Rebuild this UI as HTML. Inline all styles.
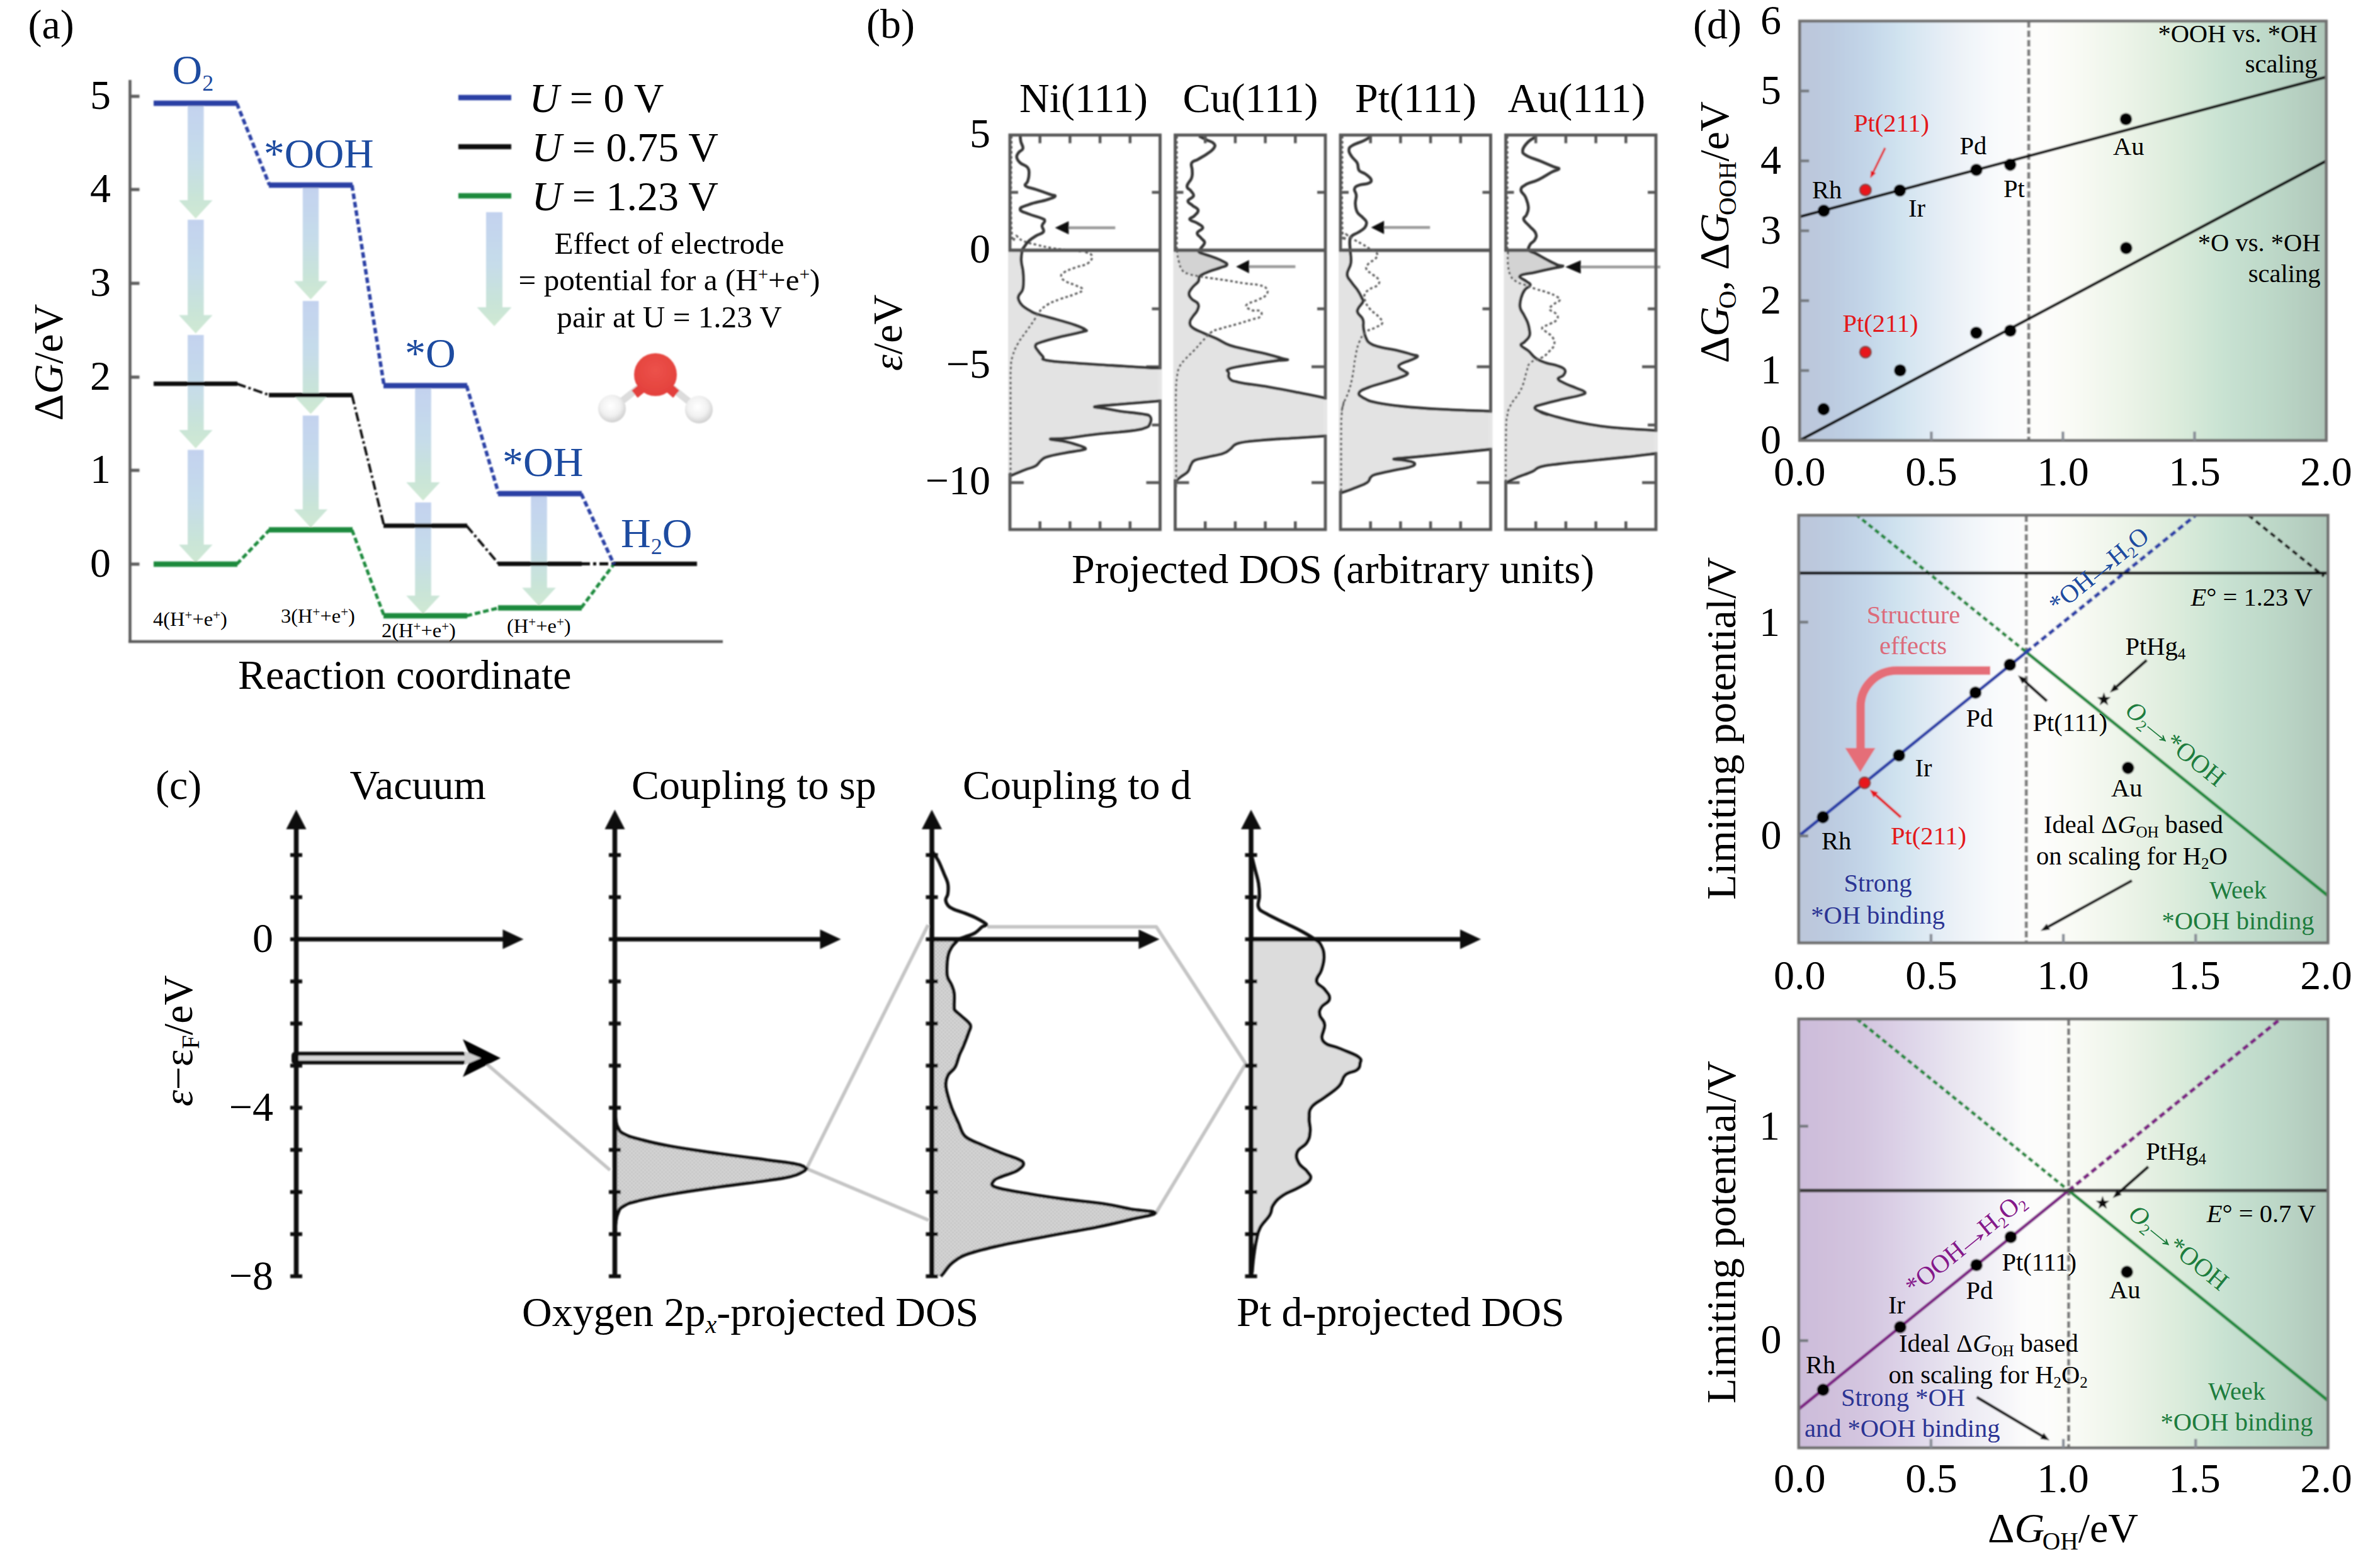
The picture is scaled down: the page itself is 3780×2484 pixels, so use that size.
<!DOCTYPE html>
<html lang="en"><head><meta charset="utf-8"><title>ORR figure</title>
<style>html,body{margin:0;padding:0;background:#fff}body{width:3780px;height:2484px;overflow:hidden}text{white-space:pre}</style></head>
<body>
<svg width="3780" height="2484" viewBox="0 0 3780 2484" font-family="'Liberation Serif', 'DejaVu Serif', serif" style="display:block">
<defs><filter id="soft" x="0" y="0" width="3780" height="2484" filterUnits="userSpaceOnUse"><feGaussianBlur stdDeviation="0.9"/></filter></defs>
<rect width="3780" height="2484" fill="#ffffff"/>
<g id="panel_a-gfx" filter="url(#soft)">
<defs><linearGradient id="ag" x1="0" y1="0" x2="0" y2="1"><stop offset="0" stop-color="#c3d2ef"/><stop offset="0.45" stop-color="#c6dcea"/><stop offset="0.8" stop-color="#c9e4d8"/><stop offset="1" stop-color="#d0e9d3"/></linearGradient><radialGradient id="hg" cx="0.45" cy="0.4" r="0.6"><stop offset="0" stop-color="#ffffff"/><stop offset="0.6" stop-color="#f1f1f1"/><stop offset="1" stop-color="#cfcfcf"/></radialGradient><radialGradient id="og" cx="0.5" cy="0.4" r="0.6"><stop offset="0" stop-color="#ec524a"/><stop offset="1" stop-color="#e3403c"/></radialGradient></defs>
<polygon points="298.1,167 323.6,167 323.6,318 337.6,318 310.8,347 284.1,318 298.1,318" fill="url(#ag)"/>
<polygon points="298.1,349 323.6,349 323.6,500.5 337.6,500.5 310.8,529.5 284.1,500.5 298.1,500.5" fill="url(#ag)"/>
<polygon points="298.1,532 323.6,532 323.6,683 337.6,683 310.8,712 284.1,683 298.1,683" fill="url(#ag)"/>
<polygon points="298.1,714.5 323.6,714.5 323.6,865 337.6,865 310.8,894 284.1,865 298.1,865" fill="url(#ag)"/>
<polygon points="480.8,298 506.2,298 506.2,446.5 520.2,446.5 493.5,475.5 466.8,446.5 480.8,446.5" fill="url(#ag)"/>
<polygon points="480.8,478 506.2,478 506.2,628.5 520.2,628.5 493.5,657.5 466.8,628.5 480.8,628.5" fill="url(#ag)"/>
<polygon points="480.8,660 506.2,660 506.2,809 520.2,809 493.5,838 466.8,809 480.8,809" fill="url(#ag)"/>
<polygon points="659.2,616 684.8,616 684.8,766 698.8,766 672,795 645.2,766 659.2,766" fill="url(#ag)"/>
<polygon points="659.2,798 684.8,798 684.8,946 698.8,946 672,975 645.2,946 659.2,946" fill="url(#ag)"/>
<polygon points="843.2,788 868.8,788 868.8,933.5 882.8,933.5 856,962.5 829.2,933.5 843.2,933.5" fill="url(#ag)"/>
<polygon points="772,337 798,337 798,488 812.5,488 785,518 757.5,488 772,488" fill="url(#ag)"/>
<line x1="206.5" y1="127" x2="206.5" y2="1021" stroke="#5c5c5c" stroke-width="4.5" />
<line x1="204" y1="1019" x2="1148" y2="1019" stroke="#5c5c5c" stroke-width="4.5" />
<line x1="207" y1="153" x2="221.5" y2="153" stroke="#5c5c5c" stroke-width="5" />
<line x1="207" y1="301" x2="221.5" y2="301" stroke="#5c5c5c" stroke-width="5" />
<line x1="207" y1="450" x2="221.5" y2="450" stroke="#5c5c5c" stroke-width="5" />
<line x1="207" y1="599" x2="221.5" y2="599" stroke="#5c5c5c" stroke-width="5" />
<line x1="207" y1="747" x2="221.5" y2="747" stroke="#5c5c5c" stroke-width="5" />
<line x1="207" y1="896" x2="221.5" y2="896" stroke="#5c5c5c" stroke-width="5" />
<line x1="244" y1="896" x2="377" y2="896" stroke="#1e8a3c" stroke-width="8.5" /><line x1="427" y1="841.5" x2="560" y2="841.5" stroke="#1e8a3c" stroke-width="8.5" /><line x1="609" y1="978" x2="742" y2="978" stroke="#1e8a3c" stroke-width="8.5" /><line x1="791" y1="965.5" x2="924" y2="965.5" stroke="#1e8a3c" stroke-width="8.5" /><line x1="376" y1="896" x2="428" y2="841.5" stroke="#1e8a3c" stroke-width="5" stroke-dasharray="9 4.5"/><line x1="559" y1="841.5" x2="610" y2="978" stroke="#1e8a3c" stroke-width="5" stroke-dasharray="9 4.5"/><line x1="741" y1="978" x2="792" y2="965.5" stroke="#1e8a3c" stroke-width="5" stroke-dasharray="9 4.5"/>
<line x1="923" y1="965.5" x2="975" y2="896" stroke="#1e8a3c" stroke-width="5" stroke-dasharray="9 4.5"/>
<line x1="244" y1="609.5" x2="377" y2="609.5" stroke="#111" stroke-width="7" /><line x1="427" y1="627.5" x2="560" y2="627.5" stroke="#111" stroke-width="7" /><line x1="609" y1="835" x2="742" y2="835" stroke="#111" stroke-width="7" /><line x1="791" y1="895.5" x2="924" y2="895.5" stroke="#111" stroke-width="7" /><line x1="376" y1="609.5" x2="428" y2="627.5" stroke="#111" stroke-width="4" stroke-dasharray="15 4.5 4 4.5"/><line x1="559" y1="627.5" x2="610" y2="835" stroke="#111" stroke-width="4" stroke-dasharray="15 4.5 4 4.5"/><line x1="741" y1="835" x2="792" y2="895.5" stroke="#111" stroke-width="4" stroke-dasharray="15 4.5 4 4.5"/>
<line x1="923" y1="895.5" x2="976" y2="895.5" stroke="#111" stroke-width="5" stroke-dasharray="14 5 5 5"/>
<line x1="974" y1="895.5" x2="1107" y2="895.5" stroke="#111" stroke-width="7" />
<line x1="244" y1="164" x2="377" y2="164" stroke="#2b40a4" stroke-width="8.5" /><line x1="427" y1="294" x2="560" y2="294" stroke="#2b40a4" stroke-width="8.5" /><line x1="609" y1="612.5" x2="742" y2="612.5" stroke="#2b40a4" stroke-width="8.5" /><line x1="791" y1="784" x2="924" y2="784" stroke="#2b40a4" stroke-width="8.5" /><line x1="376" y1="164" x2="428" y2="294" stroke="#2b40a4" stroke-width="5.5" stroke-dasharray="9 4.5"/><line x1="559" y1="294" x2="610" y2="612.5" stroke="#2b40a4" stroke-width="5.5" stroke-dasharray="9 4.5"/><line x1="741" y1="612.5" x2="792" y2="784" stroke="#2b40a4" stroke-width="5.5" stroke-dasharray="9 4.5"/>
<line x1="923" y1="784" x2="975" y2="896" stroke="#2b40a4" stroke-width="5.5" stroke-dasharray="9 4.5"/>
<line x1="728" y1="155" x2="812" y2="155" stroke="#2b40a4" stroke-width="8.5" />
<line x1="728" y1="233" x2="812" y2="233" stroke="#111" stroke-width="8" />
<line x1="728" y1="311" x2="812" y2="311" stroke="#1e8a3c" stroke-width="8.5" />
<line x1="1041" y1="595" x2="975" y2="647" stroke="#dcdcdc" stroke-width="11" stroke-linecap="round"/>
<line x1="1041" y1="595" x2="1107" y2="648" stroke="#dcdcdc" stroke-width="11" stroke-linecap="round"/>
<line x1="1025" y1="612" x2="1008" y2="626" stroke="#e3403c" stroke-width="15" />
<line x1="1058" y1="612" x2="1074" y2="626" stroke="#e3403c" stroke-width="15" />
<circle cx="972" cy="649" r="22" fill="url(#hg)"/>
<circle cx="1110" cy="650.5" r="22" fill="url(#hg)"/>
<circle cx="1041" cy="595" r="34" fill="url(#og)"/>
</g>
<g id="panel_b-gfx" filter="url(#soft)">
<line x1="1842.5" y1="305.5" x2="1829.5" y2="305.5" stroke="#565656" stroke-width="4.5" /><line x1="1604" y1="305.5" x2="1617" y2="305.5" stroke="#565656" stroke-width="4.5" /><line x1="1842.5" y1="490.5" x2="1829.5" y2="490.5" stroke="#565656" stroke-width="4.5" /><line x1="1604" y1="490.5" x2="1617" y2="490.5" stroke="#565656" stroke-width="4.5" /><line x1="1842.5" y1="582.5" x2="1820.5" y2="582.5" stroke="#565656" stroke-width="4.5" /><line x1="1604" y1="582.5" x2="1626" y2="582.5" stroke="#565656" stroke-width="4.5" /><line x1="1842.5" y1="675" x2="1829.5" y2="675" stroke="#565656" stroke-width="4.5" /><line x1="1604" y1="675" x2="1617" y2="675" stroke="#565656" stroke-width="4.5" /><line x1="1842.5" y1="766.5" x2="1820.5" y2="766.5" stroke="#565656" stroke-width="4.5" /><line x1="1604" y1="766.5" x2="1626" y2="766.5" stroke="#565656" stroke-width="4.5" /><polygon points="1604,397.5 1620.9,398.8 1621.8,413.5 1624.7,431.2 1625.3,448.8 1623.8,460.6 1617.9,469.4 1617.9,476.8 1623.8,485.6 1637.1,494.4 1648.8,499.4 1678.2,507.6 1707.6,516.5 1723.8,523.8 1719.4,526.8 1687.1,534.1 1654.7,542.9 1644.4,548.8 1648.8,557.6 1656.2,566.5 1662.1,572.4 1707.6,576.8 1766.5,580.6 1825.3,584.1 1843.5,584.4 1842.5,584.4 1842.5,636.5 1843.5,636.5 1801.8,640 1766.5,642.9 1738.5,645.9 1754.7,648.8 1778.2,653.2 1813.5,657.6 1826.8,662.1 1825.9,673.8 1817.9,679.7 1795.9,684.1 1737.1,690 1692.9,695.9 1667.9,697.4 1692.9,701.8 1713.5,707.6 1723.8,712.1 1716.5,715 1690,719.4 1663.5,725.3 1653.2,731.2 1644.4,740 1628.2,745.9 1605.3,755.3 1604,755.3" fill="#e3e3e3"/><path d="M1606.5 216C1606.5 250.5 1604.5 326.9 1606.5 364C1608.5 401.1 1610.5 370.6 1615 375C1619.5 379.4 1618.5 379.7 1626 383C1633.5 386.3 1636.5 386.4 1647 389C1657.5 391.6 1661 392.2 1671 394C1681 395.8 1678.3 395.2 1690 396.5C1701.7 397.8 1713.8 398.8 1721 399.5" fill="none" stroke="#5e5e5e" stroke-width="3.3" stroke-dasharray="4.2 3.8"/><line x1="1695.4" y1="361.7" x2="1771.3" y2="361.7" stroke="#9a9a9a" stroke-width="4.5" /><polygon points="1675.6,361.7 1697.4,351.2 1697.4,372.2" fill="#0a0a0a"/><path d="M1620.2 213.5C1620.5 216 1620.3 219.9 1621.3 224.8C1622.3 229.7 1625.3 231.8 1624.6 235.7C1623.8 239.5 1620.2 239.1 1618 242.2C1615.9 245.3 1614.3 246.2 1614.8 249.8C1615.3 253.4 1616.4 254.9 1620.2 258.5C1624 262.1 1629.1 262 1632.2 266.1C1635.3 270.2 1634.3 272.2 1634.3 277C1634.3 281.7 1633.4 283.8 1632.2 287.8C1631 291.9 1626 292.6 1628.9 295.4C1631.8 298.3 1636.8 298 1645.2 300.9C1653.6 303.7 1660.3 306.1 1667 308.5C1673.7 310.9 1676.6 309.8 1675.7 311.7C1674.7 313.7 1671.7 314.3 1662.6 317.2C1653.5 320 1643.7 321.4 1634.3 324.8C1625 328.1 1620.2 329 1620.2 332.4C1620.2 335.7 1626.9 336.9 1634.3 340C1641.8 343.1 1648.4 344.1 1653.9 346.5C1659.4 348.9 1659.1 348.2 1659.3 350.9C1659.6 353.5 1655.5 354.7 1655 358.5C1654.5 362.3 1659.3 364.7 1657.2 368.3C1655 371.8 1650.5 371.4 1645.2 374.8C1640 378.1 1637.3 379.7 1633.3 383.5C1629.2 387.3 1628.9 389.1 1626.7 392.2C1624.6 395.3 1624.6 392.9 1623.5 397.6C1622.4 402.3 1621.5 406.1 1621.8 413.5C1622 420.9 1623.9 423.4 1624.7 431.2C1625.5 438.9 1625.5 442.4 1625.3 448.8C1625.1 455.3 1625.4 456.1 1623.8 460.6C1622.2 465.1 1619.2 465.9 1617.9 469.4C1616.6 473 1616.6 473.2 1617.9 476.8C1619.2 480.3 1619.6 481.7 1623.8 485.6C1628 489.5 1631.6 491.4 1637.1 494.4C1642.6 497.5 1639.8 496.5 1648.8 499.4C1657.9 502.3 1665.3 503.9 1678.2 507.6C1691.2 511.4 1697.6 512.9 1707.6 516.5C1717.7 520 1721.2 521.6 1723.8 523.8C1726.4 526.1 1727.5 524.5 1719.4 526.8C1711.3 529 1701.3 530.6 1687.1 534.1C1672.8 537.7 1664.1 539.7 1654.7 542.9C1645.3 546.2 1645.7 545.6 1644.4 548.8C1643.1 552.1 1646.2 553.8 1648.8 557.6C1651.4 561.5 1653.3 563.2 1656.2 566.5C1659.1 569.7 1650.7 570.1 1662.1 572.4C1673.4 574.6 1684.7 575 1707.6 576.8C1730.6 578.6 1740.6 579 1766.5 580.6C1792.4 582.2 1808.3 583.3 1825.3 584.1C1842.2 585 1839.5 584.3 1843.5 584.4" fill="none" stroke="#343434" stroke-width="4.6" stroke-linejoin="round"/><path d="M1843.5 636.5C1834.3 637.2 1818.7 638.6 1801.8 640C1784.8 641.4 1780.4 641.6 1766.5 642.9C1752.6 644.2 1741.1 644.6 1738.5 645.9C1735.9 647.2 1746 647.2 1754.7 648.8C1763.4 650.4 1765.3 651.3 1778.2 653.2C1791.2 655.2 1802.9 655.7 1813.5 657.6C1824.2 659.6 1824 658.5 1826.8 662.1C1829.5 665.6 1827.8 669.9 1825.9 673.8C1823.9 677.7 1824.5 677.4 1817.9 679.7C1811.3 682 1813.7 681.9 1795.9 684.1C1778.1 686.4 1759.7 687.4 1737.1 690C1714.4 692.6 1708.1 694.3 1692.9 695.9C1677.7 697.5 1667.9 696.1 1667.9 697.4C1667.9 698.6 1682.9 699.5 1692.9 701.8C1703 704 1706.7 705.4 1713.5 707.6C1720.3 709.9 1723.2 710.4 1723.8 712.1C1724.5 713.7 1723.9 713.4 1716.5 715C1709 716.6 1701.6 717.1 1690 719.4C1678.4 721.7 1671.6 722.7 1663.5 725.3C1655.4 727.9 1657.4 727.9 1653.2 731.2C1649 734.4 1649.9 736.8 1644.4 740C1638.9 743.2 1636.8 742.5 1628.2 745.9C1619.6 749.2 1610.3 753.2 1605.3 755.3" fill="none" stroke="#343434" stroke-width="4.6" stroke-linejoin="round"/><rect x="1604" y="214.5" width="238.5" height="626.5" fill="none" stroke="#565656" stroke-width="4.8"/><line x1="1604" y1="397.5" x2="1842.5" y2="397.5" stroke="#565656" stroke-width="5.5" /><line x1="1604" y1="400.2" x2="1604" y2="751.3" stroke="#e3e3e3" stroke-width="6" /><path d="M1723.8 400.3C1726.2 401.6 1733 401.9 1734 406C1735 410.1 1734.2 413.6 1728 418C1721.8 422.4 1716.5 421.6 1707.6 425C1698.7 428.4 1695.1 429.1 1690 432.6C1684.9 436.1 1684.9 436.6 1685.6 440C1686.3 443.4 1687.9 444 1693 447C1698.1 450 1701.4 450 1707.6 453C1713.8 456 1719.4 456.7 1719.4 460C1719.4 463.3 1715.9 463.5 1707.6 467C1699.3 470.5 1694.3 471 1684 475C1673.7 479 1671.4 479.1 1663.5 484C1655.6 488.9 1654.8 490.5 1650 496C1645.2 501.5 1647.4 500.8 1643 507.6C1638.6 514.4 1637.2 516 1631 525C1624.8 534 1621.9 536.3 1616.5 546C1611.1 555.7 1610.6 557.6 1608 566.5C1605.4 575.4 1606.2 570.4 1605.5 584C1604.8 597.6 1605.1 586.3 1605 625C1604.9 663.7 1605.1 720.5 1605 750C1604.9 779.5 1604.6 751 1604.5 751.3" fill="none" stroke="#5e5e5e" stroke-width="3.3" stroke-dasharray="4.2 3.8"/><rect x="1839.5" y="586.9" width="6" height="47.1" fill="#e6e6e6"/><line x1="1651.7" y1="214.5" x2="1651.7" y2="227.5" stroke="#565656" stroke-width="4.5" /><line x1="1651.7" y1="841" x2="1651.7" y2="828" stroke="#565656" stroke-width="4.5" /><line x1="1699.4" y1="214.5" x2="1699.4" y2="227.5" stroke="#565656" stroke-width="4.5" /><line x1="1699.4" y1="841" x2="1699.4" y2="828" stroke="#565656" stroke-width="4.5" /><line x1="1747.1" y1="214.5" x2="1747.1" y2="227.5" stroke="#565656" stroke-width="4.5" /><line x1="1747.1" y1="841" x2="1747.1" y2="828" stroke="#565656" stroke-width="4.5" /><line x1="1794.8" y1="214.5" x2="1794.8" y2="227.5" stroke="#565656" stroke-width="4.5" /><line x1="1794.8" y1="841" x2="1794.8" y2="828" stroke="#565656" stroke-width="4.5" />
<line x1="2105" y1="305.5" x2="2092" y2="305.5" stroke="#565656" stroke-width="4.5" /><line x1="1866.5" y1="305.5" x2="1879.5" y2="305.5" stroke="#565656" stroke-width="4.5" /><line x1="2105" y1="490.5" x2="2092" y2="490.5" stroke="#565656" stroke-width="4.5" /><line x1="1866.5" y1="490.5" x2="1879.5" y2="490.5" stroke="#565656" stroke-width="4.5" /><line x1="2105" y1="582.5" x2="2083" y2="582.5" stroke="#565656" stroke-width="4.5" /><line x1="1866.5" y1="582.5" x2="1888.5" y2="582.5" stroke="#565656" stroke-width="4.5" /><line x1="2105" y1="675" x2="2092" y2="675" stroke="#565656" stroke-width="4.5" /><line x1="1866.5" y1="675" x2="1879.5" y2="675" stroke="#565656" stroke-width="4.5" /><line x1="2105" y1="766.5" x2="2083" y2="766.5" stroke="#565656" stroke-width="4.5" /><line x1="1866.5" y1="766.5" x2="1888.5" y2="766.5" stroke="#565656" stroke-width="4.5" /><polygon points="1866.5,397.5 1905.3,397.6 1905.9,401.5 1923.5,407.4 1941.2,414.7 1948.5,420.6 1938.2,425 1920.6,430.9 1905.9,438.2 1902.9,447.1 1894.1,455.9 1888.2,466.2 1892.6,475 1902.4,482.4 1901.5,492.6 1894.1,502.9 1889.7,511.8 1894.1,520.6 1911.8,529.4 1932.4,538.2 1952.9,548.5 1982.4,555.9 2014.7,563.2 2038.2,570 2044.1,571.5 2026.5,572.9 1991.2,577.9 1952.9,585.3 1951.5,592.6 1952.9,601.5 1967.6,607.4 2014.7,614.7 2061.8,623.5 2105.3,632.4 2105,632.4 2105,692.3 2106,692.3 2061,695.2 2003.4,699 1967,703.8 1953.6,713.4 1942.1,720.1 1917.1,725.9 1897.9,730.7 1891.2,738.4 1886.4,748.9 1874.9,757.5 1866.5,764.8 1866.5,764.8" fill="#e3e3e3"/><polygon points="1905.3,397.6 1905.9,401.5 1923.5,407.4 1941.2,414.7 1948.5,420.6 1938.2,425 1920.6,430.9 1905.9,438.2 1904.4,438.8 1888.2,435.3 1877.9,429.4 1872.1,414.7 1869.1,397.6" fill="#d3d3d3"/><path d="M1869 216 L1869 397" fill="none" stroke="#5e5e5e" stroke-width="3.3" stroke-dasharray="4.2 3.8"/><line x1="1981.8" y1="423.5" x2="2057.4" y2="423.5" stroke="#9a9a9a" stroke-width="4.5" /><polygon points="1963.2,423.5 1983.8,413 1983.8,434" fill="#0a0a0a"/><path d="M1904.4 216.2C1907 217.5 1911 219.5 1916.2 222.1C1921.4 224.6 1925.4 225 1927.9 227.9C1930.5 230.9 1930.2 231.7 1927.9 235.3C1925.7 238.9 1923.1 240.2 1917.6 244.1C1912.1 248 1908.4 249.7 1902.9 252.9C1897.4 256.2 1894.7 254.9 1892.6 258.8C1890.6 262.7 1893.5 265.4 1893.5 270.6C1893.5 275.8 1894.5 276.9 1892.6 282.4C1890.8 287.9 1885.6 291.1 1885.3 295.6C1885 300.1 1888.9 299.5 1891.2 302.9C1893.4 306.4 1896.6 307.6 1895.6 311.2C1894.6 314.7 1887.1 315.8 1886.8 319.1C1886.4 322.5 1890.6 323.2 1894.1 326.5C1897.7 329.7 1902.3 330.3 1902.9 333.8C1903.6 337.4 1900 339.4 1897.1 342.6C1894.1 345.9 1888.7 345.9 1889.7 348.5C1890.7 351.1 1896.9 351.5 1901.5 354.4C1906 357.3 1910.3 358.3 1910.3 361.8C1910.3 365.2 1902.1 366.4 1901.5 370C1900.8 373.6 1904.8 374.6 1907.4 377.9C1909.9 381.3 1913.2 381.7 1913.2 385.3C1913.2 388.9 1909.1 391.4 1907.4 394.1C1905.6 396.8 1905.6 396 1905.3 397.6C1905 399.3 1901.9 399.3 1905.9 401.5C1909.9 403.6 1915.8 404.4 1923.5 407.4C1931.3 410.3 1935.7 411.8 1941.2 414.7C1946.7 417.6 1949.2 418.3 1948.5 420.6C1947.9 422.9 1944.4 422.7 1938.2 425C1932.1 427.3 1927.7 428 1920.6 430.9C1913.5 433.8 1909.8 434.7 1905.9 438.2C1902 441.8 1905.5 443.2 1902.9 447.1C1900.4 450.9 1897.4 451.7 1894.1 455.9C1890.9 460.1 1888.6 462 1888.2 466.2C1887.9 470.4 1889.5 471.4 1892.6 475C1895.8 478.6 1900.4 478.5 1902.4 482.4C1904.3 486.2 1903.3 488.1 1901.5 492.6C1899.7 497.2 1896.7 498.7 1894.1 502.9C1891.5 507.1 1889.7 507.9 1889.7 511.8C1889.7 515.6 1889.3 516.7 1894.1 520.6C1899 524.5 1903.4 525.5 1911.8 529.4C1920.2 533.3 1923.3 534 1932.4 538.2C1941.4 542.4 1941.9 544.6 1952.9 548.5C1963.9 552.4 1968.8 552.6 1982.4 555.9C1995.9 559.1 2002.4 560.1 2014.7 563.2C2027 566.3 2031.8 568.2 2038.2 570C2044.7 571.8 2046.7 570.8 2044.1 571.5C2041.5 572.1 2038.1 571.5 2026.5 572.9C2014.8 574.4 2007.4 575.2 1991.2 577.9C1975 580.7 1961.7 582.1 1952.9 585.3C1944.2 588.5 1951.5 589.1 1951.5 592.6C1951.5 596.2 1949.4 598.2 1952.9 601.5C1956.5 604.7 1954.1 604.4 1967.6 607.4C1981.2 610.3 1994 611.1 2014.7 614.7C2035.4 618.3 2041.8 619.6 2061.8 623.5C2081.7 627.4 2095.7 630.4 2105.3 632.4" fill="none" stroke="#343434" stroke-width="4.6" stroke-linejoin="round"/><path d="M2106 692.3C2096.1 693 2083.5 693.7 2061 695.2C2038.4 696.7 2024.1 697.1 2003.4 699C1982.8 700.9 1978 700.7 1967 703.8C1956 707 1959.1 709.8 1953.6 713.4C1948.1 717 1950.1 717.4 1942.1 720.1C1934 722.9 1926.8 723.6 1917.1 725.9C1907.4 728.2 1903.6 728 1897.9 730.7C1892.3 733.4 1893.8 734.4 1891.2 738.4C1888.7 742.4 1890 744.7 1886.4 748.9C1882.9 753.1 1879.3 754 1874.9 757.5C1870.5 761 1868.4 763.2 1866.5 764.8" fill="none" stroke="#343434" stroke-width="4.6" stroke-linejoin="round"/><rect x="1866.5" y="214.5" width="238.5" height="626.5" fill="none" stroke="#565656" stroke-width="4.8"/><line x1="1866.5" y1="397.5" x2="2105" y2="397.5" stroke="#565656" stroke-width="5.5" /><line x1="1866.5" y1="400.2" x2="1866.5" y2="760.8" stroke="#e3e3e3" stroke-width="6" /><path d="M1869.1 397.6C1869.8 401.6 1870 407.3 1872.1 414.7C1874.1 422.1 1874.2 424.6 1877.9 429.4C1881.7 434.2 1882.1 433.1 1888.2 435.3C1894.4 437.5 1896.2 437.3 1904.4 438.8C1912.6 440.3 1912.9 440.2 1923.5 441.8C1934.2 443.3 1937.6 443.7 1950 445.6C1962.4 447.5 1964.8 448.3 1976.5 450C1988.1 451.7 1991.8 450.9 2000 452.9C2008.2 455 2009.4 455 2011.8 458.8C2014.2 462.6 2013.7 465 2010.3 469.1C2006.9 473.2 2004.3 472.8 1997.1 476.5C1989.9 480.1 1981.5 480.9 1979.4 484.7C1977.4 488.5 1983.1 490.5 1988.2 492.6C1993.4 494.8 1998.4 491.7 2001.5 494.1C2004.6 496.5 2004.6 499.9 2001.5 502.9C1998.4 506 1996.8 504.6 1988.2 507.4C1979.7 510.1 1976.4 511.3 1964.7 514.7C1953 518.1 1947.8 519 1938.2 522.1C1928.6 525.1 1930 523.5 1923.5 527.9C1917 532.4 1916.5 534.7 1910.3 541.2C1904.1 547.7 1903.6 549 1897.1 555.9C1890.5 562.7 1887.8 564.4 1882.4 570.6C1876.9 576.8 1876.6 575.5 1873.5 582.4C1870.4 589.2 1870.5 589.7 1869.1 600C1867.7 610.3 1868 612.7 1867.6 626.5C1867.3 640.2 1867.6 626.7 1867.6 658.8C1867.7 690.9 1868.2 740.2 1868 764C1867.8 787.8 1867.2 761.6 1867 760.8" fill="none" stroke="#5e5e5e" stroke-width="3.3" stroke-dasharray="4.2 3.8"/><rect x="2102" y="634.9" width="6" height="55" fill="#e6e6e6"/><line x1="1914.2" y1="214.5" x2="1914.2" y2="227.5" stroke="#565656" stroke-width="4.5" /><line x1="1914.2" y1="841" x2="1914.2" y2="828" stroke="#565656" stroke-width="4.5" /><line x1="1961.9" y1="214.5" x2="1961.9" y2="227.5" stroke="#565656" stroke-width="4.5" /><line x1="1961.9" y1="841" x2="1961.9" y2="828" stroke="#565656" stroke-width="4.5" /><line x1="2009.6" y1="214.5" x2="2009.6" y2="227.5" stroke="#565656" stroke-width="4.5" /><line x1="2009.6" y1="841" x2="2009.6" y2="828" stroke="#565656" stroke-width="4.5" /><line x1="2057.3" y1="214.5" x2="2057.3" y2="227.5" stroke="#565656" stroke-width="4.5" /><line x1="2057.3" y1="841" x2="2057.3" y2="828" stroke="#565656" stroke-width="4.5" />
<line x1="2367.5" y1="305.5" x2="2354.5" y2="305.5" stroke="#565656" stroke-width="4.5" /><line x1="2129" y1="305.5" x2="2142" y2="305.5" stroke="#565656" stroke-width="4.5" /><line x1="2367.5" y1="490.5" x2="2354.5" y2="490.5" stroke="#565656" stroke-width="4.5" /><line x1="2129" y1="490.5" x2="2142" y2="490.5" stroke="#565656" stroke-width="4.5" /><line x1="2367.5" y1="582.5" x2="2345.5" y2="582.5" stroke="#565656" stroke-width="4.5" /><line x1="2129" y1="582.5" x2="2151" y2="582.5" stroke="#565656" stroke-width="4.5" /><line x1="2367.5" y1="675" x2="2354.5" y2="675" stroke="#565656" stroke-width="4.5" /><line x1="2129" y1="675" x2="2142" y2="675" stroke="#565656" stroke-width="4.5" /><line x1="2367.5" y1="766.5" x2="2345.5" y2="766.5" stroke="#565656" stroke-width="4.5" /><line x1="2129" y1="766.5" x2="2151" y2="766.5" stroke="#565656" stroke-width="4.5" /><polygon points="2129,397.5 2144.4,397.6 2145.3,417.6 2139.4,435.3 2145.3,447.1 2155.6,460.3 2162.9,473.5 2164.4,479.4 2157.1,489.7 2156.5,497.1 2164.4,507.4 2165.3,520.6 2168.8,535.3 2176.2,545.6 2192.4,551.5 2221.8,557.4 2242.4,563.2 2251.2,566.2 2239.4,572.1 2224.7,577.9 2221.8,583.8 2230.6,589.7 2235,594.1 2221.8,600 2198.2,607.4 2174.7,614.7 2158.5,623.5 2165.9,632.4 2186.5,639.7 2227.6,645.6 2286.5,650 2367.4,653.2 2367.5,653.2 2367.5,713.4 2368,713.4 2301.8,720.1 2244.3,725.9 2213.6,728.8 2232.7,731.7 2246.2,735.5 2240.4,741.2 2217.4,746 2186.7,752.8 2177.1,757.5 2171.4,766.2 2154.1,773.8 2129.2,783.1 2129,783.1" fill="#e3e3e3"/><path d="M2132 216C2132 250.5 2130.6 327.6 2132 364C2133.4 400.4 2136.6 370.1 2138 372" fill="none" stroke="#5e5e5e" stroke-width="3.3" stroke-dasharray="4.2 3.8"/><line x1="2196.2" y1="361.2" x2="2271.2" y2="361.2" stroke="#9a9a9a" stroke-width="4.5" /><polygon points="2177.6,361.2 2198.2,350.7 2198.2,371.7" fill="#0a0a0a"/><path d="M2176.2 217.6C2173.9 218.9 2172 220.6 2165.9 223.5C2159.7 226.4 2153.4 227.6 2148.2 230.9C2143.1 234.1 2142.7 234.4 2142.4 238.2C2142 242.1 2143.9 244 2146.8 248.5C2149.7 253.1 2153 254 2155.6 258.8C2158.2 263.7 2155.6 266.7 2158.5 270.6C2161.4 274.5 2164.6 273.2 2168.8 276.5C2173 279.7 2176.7 282.1 2177.6 285.3C2178.6 288.5 2177.4 289.2 2173.2 291.2C2169 293.1 2163.4 292.2 2158.5 294.1C2153.7 296.1 2152.1 296.4 2151.2 300C2150.2 303.6 2153.8 305.1 2154.1 310.3C2154.4 315.5 2152.3 317.7 2152.6 323.5C2153 329.4 2153 331.9 2155.6 336.8C2158.2 341.6 2161.2 342 2164.4 345.6C2167.6 349.1 2169.6 349.4 2170.3 352.9C2170.9 356.5 2170.3 358.2 2167.4 361.8C2164.4 365.3 2161.6 366.2 2157.1 369.1C2152.5 372 2149.7 372.1 2146.8 375C2143.9 377.9 2144.3 377.4 2143.8 382.4C2143.3 387.3 2144.1 389.9 2144.4 397.6C2144.7 405.4 2146.4 409.4 2145.3 417.6C2144.2 425.9 2139.4 428.8 2139.4 435.3C2139.4 441.8 2141.7 441.6 2145.3 447.1C2148.9 452.6 2151.7 454.5 2155.6 460.3C2159.5 466.1 2161 469.3 2162.9 473.5C2164.9 477.7 2165.7 475.9 2164.4 479.4C2163.1 483 2158.8 485.8 2157.1 489.7C2155.3 493.6 2154.9 493.2 2156.5 497.1C2158.1 500.9 2162.5 502.2 2164.4 507.4C2166.4 512.5 2164.3 514.4 2165.3 520.6C2166.3 526.7 2166.4 529.8 2168.8 535.3C2171.2 540.8 2171 542 2176.2 545.6C2181.4 549.1 2182.3 548.9 2192.4 551.5C2202.4 554.1 2210.8 554.8 2221.8 557.4C2232.8 559.9 2235.9 561.3 2242.4 563.2C2248.8 565.2 2251.8 564.2 2251.2 566.2C2250.5 568.1 2245.2 569.5 2239.4 572.1C2233.6 574.6 2228.6 575.4 2224.7 577.9C2220.8 580.5 2220.5 581.2 2221.8 583.8C2223.1 586.4 2227.7 587.4 2230.6 589.7C2233.5 592 2236.9 591.9 2235 594.1C2233.1 596.4 2229.9 597.1 2221.8 600C2213.7 602.9 2208.6 604.1 2198.2 607.4C2187.9 610.6 2183.4 611.1 2174.7 614.7C2166 618.3 2160.5 619.6 2158.5 623.5C2156.6 627.4 2159.7 628.8 2165.9 632.4C2172 635.9 2172.9 636.8 2186.5 639.7C2200.1 642.6 2205.6 643.3 2227.6 645.6C2249.6 647.9 2255.7 648.3 2286.5 650C2317.2 651.7 2349.6 652.5 2367.4 653.2" fill="none" stroke="#343434" stroke-width="4.6" stroke-linejoin="round"/><path d="M2368 713.4C2353.4 714.9 2329 717.4 2301.8 720.1C2274.6 722.9 2263.7 724 2244.3 725.9C2224.8 727.8 2216.1 727.5 2213.6 728.8C2211 730 2225.6 730.2 2232.7 731.7C2239.9 733.1 2244.5 733.4 2246.2 735.5C2247.9 737.6 2246.7 738.9 2240.4 741.2C2234.1 743.6 2229.2 743.5 2217.4 746C2205.6 748.6 2195.6 750.2 2186.7 752.8C2177.9 755.3 2180.5 754.6 2177.1 757.5C2173.8 760.5 2176.4 762.6 2171.4 766.2C2166.3 769.8 2163.4 770.1 2154.1 773.8C2144.8 777.6 2134.7 781 2129.2 783.1" fill="none" stroke="#343434" stroke-width="4.6" stroke-linejoin="round"/><rect x="2129" y="214.5" width="238.5" height="626.5" fill="none" stroke="#565656" stroke-width="4.8"/><line x1="2129" y1="397.5" x2="2367.5" y2="397.5" stroke="#565656" stroke-width="5.5" /><line x1="2129" y1="400.2" x2="2129" y2="779.1" stroke="#e3e3e3" stroke-width="6" /><path d="M2137.9 372.1C2141 374.1 2145 377.1 2151.2 380.9C2157.4 384.7 2158.6 384.8 2164.4 388.2C2170.2 391.7 2170.9 392.2 2176.2 395.6C2181.5 399 2185 399.5 2187.1 402.9C2189.1 406.4 2188.2 406.5 2185 410.3C2181.8 414.1 2176.7 415 2173.2 419.1C2169.8 423.2 2168.9 424.2 2170.3 427.9C2171.7 431.7 2174.7 431.5 2179.1 435.3C2183.6 439.1 2187.4 440 2189.4 444.1C2191.5 448.2 2191 449.5 2187.9 452.9C2184.9 456.4 2181 455.4 2176.2 458.8C2171.4 462.3 2169.1 462.8 2167.4 467.6C2165.6 472.5 2166.8 473.9 2168.8 479.4C2170.9 484.9 2171.4 485.7 2176.2 491.2C2181 496.7 2185 497.8 2189.4 502.9C2193.9 508.1 2196.7 509.1 2195.3 513.2C2193.9 517.4 2189.7 517.2 2183.5 520.6C2177.4 524 2174.7 522.5 2168.8 527.9C2163 533.4 2162.3 534.9 2158.5 544.1C2154.8 553.4 2155 555.3 2152.6 567.6C2150.2 580 2150.6 584.7 2148.2 597.1C2145.8 609.4 2145.4 611 2142.4 620.6C2139.3 630.2 2137.7 630.7 2135 638.2C2132.3 645.8 2130.6 653.3 2130.6 652.9C2130.6 652.6 2134.8 636 2134.9 636.7C2135.1 637.4 2132.2 642.5 2131.1 655.9C2130 669.3 2130.4 667.4 2130.1 694.3C2129.9 721.1 2130.3 751.2 2130.1 771C2130 790.8 2129.6 777.2 2129.5 779.1" fill="none" stroke="#5e5e5e" stroke-width="3.3" stroke-dasharray="4.2 3.8"/><rect x="2364.5" y="655.7" width="6" height="55.2" fill="#e6e6e6"/><line x1="2176.7" y1="214.5" x2="2176.7" y2="227.5" stroke="#565656" stroke-width="4.5" /><line x1="2176.7" y1="841" x2="2176.7" y2="828" stroke="#565656" stroke-width="4.5" /><line x1="2224.4" y1="214.5" x2="2224.4" y2="227.5" stroke="#565656" stroke-width="4.5" /><line x1="2224.4" y1="841" x2="2224.4" y2="828" stroke="#565656" stroke-width="4.5" /><line x1="2272.1" y1="214.5" x2="2272.1" y2="227.5" stroke="#565656" stroke-width="4.5" /><line x1="2272.1" y1="841" x2="2272.1" y2="828" stroke="#565656" stroke-width="4.5" /><line x1="2319.8" y1="214.5" x2="2319.8" y2="227.5" stroke="#565656" stroke-width="4.5" /><line x1="2319.8" y1="841" x2="2319.8" y2="828" stroke="#565656" stroke-width="4.5" />
<line x1="2630" y1="305.5" x2="2617" y2="305.5" stroke="#565656" stroke-width="4.5" /><line x1="2391.5" y1="305.5" x2="2404.5" y2="305.5" stroke="#565656" stroke-width="4.5" /><line x1="2630" y1="490.5" x2="2617" y2="490.5" stroke="#565656" stroke-width="4.5" /><line x1="2391.5" y1="490.5" x2="2404.5" y2="490.5" stroke="#565656" stroke-width="4.5" /><line x1="2630" y1="582.5" x2="2608" y2="582.5" stroke="#565656" stroke-width="4.5" /><line x1="2391.5" y1="582.5" x2="2413.5" y2="582.5" stroke="#565656" stroke-width="4.5" /><line x1="2630" y1="675" x2="2617" y2="675" stroke="#565656" stroke-width="4.5" /><line x1="2391.5" y1="675" x2="2404.5" y2="675" stroke="#565656" stroke-width="4.5" /><line x1="2630" y1="766.5" x2="2608" y2="766.5" stroke="#565656" stroke-width="4.5" /><line x1="2391.5" y1="766.5" x2="2413.5" y2="766.5" stroke="#565656" stroke-width="4.5" /><polygon points="2391.5,397.5 2428.2,397.6 2439.1,402.9 2455.3,411.8 2472.9,420.6 2481.8,422.9 2464.1,426.5 2437.6,432.4 2414.1,438.2 2424.4,447.1 2430.3,452.9 2421.5,460.3 2415.6,473.5 2414.1,488.2 2420,500 2425.9,511.8 2428.8,523.5 2428.8,533.8 2421.5,542.6 2415.6,548.5 2427.4,557.4 2439.1,569.1 2455.3,576.5 2472.9,580.9 2484.7,586.8 2483.2,595.6 2474.4,601.5 2484.7,608.8 2502.4,616.2 2517.1,622.9 2508.2,627.9 2481.8,633.8 2452.4,641.2 2437.6,647.1 2446.5,654.4 2458.2,658.8 2446.7,654 2469.7,661.6 2504.3,670.3 2542.6,677 2581,680.8 2629.9,683.7 2630,683.7 2630,720.1 2629.9,720.1 2581,725.9 2523.4,731.7 2477.4,736.4 2446.7,741.2 2433.3,748.9 2408.4,758.5 2391.5,766.8 2391.5,766.8" fill="#e3e3e3"/><polygon points="2428.2,397.6 2439.1,402.9 2455.3,411.8 2472.9,420.6 2481.8,422.9 2464.1,426.5 2437.6,432.4 2414.1,438.2 2408.2,447.1 2399.4,438.2 2395,420.6 2395,400" fill="#d3d3d3"/><path d="M2394 216 L2394 397" fill="none" stroke="#5e5e5e" stroke-width="3.3" stroke-dasharray="4.2 3.8"/><line x1="2508.6" y1="424" x2="2637" y2="424" stroke="#9a9a9a" stroke-width="4.5" /><polygon points="2486.2,424 2510.6,413.5 2510.6,434.5" fill="#0a0a0a"/><path d="M2439.1 217.6C2436.5 219.3 2431.9 220.5 2427.4 225C2422.8 229.5 2419.2 233.4 2418.5 238.2C2417.9 243.1 2418.3 243.2 2424.4 247.1C2430.6 250.9 2437.1 252 2446.5 255.9C2455.9 259.8 2460.6 262 2467.1 264.7C2473.5 267.4 2476.5 266.3 2475.9 268.2C2475.2 270.2 2471.2 269.8 2464.1 273.5C2457 277.3 2452.3 281.1 2443.5 285.3C2434.8 289.5 2430.6 289.1 2424.4 292.6C2418.3 296.2 2415.9 296.9 2415.6 301.5C2415.3 306 2420.4 307.1 2422.9 313.2C2425.5 319.4 2427 323.3 2427.4 329.4C2427.7 335.6 2426 337 2424.4 341.2C2422.8 345.4 2419 344.6 2420 348.5C2421 352.4 2424.6 354 2428.8 358.8C2433 363.7 2437.2 365.7 2439.1 370.6C2441.1 375.4 2439.6 377 2437.6 380.9C2435.7 384.8 2432.4 384.5 2430.3 388.2C2428.2 391.9 2426.3 394.4 2428.2 397.6C2430.2 400.9 2433.2 399.8 2439.1 402.9C2445.1 406 2447.9 407.9 2455.3 411.8C2462.7 415.6 2467.1 418.1 2472.9 420.6C2478.8 423 2483.7 421.6 2481.8 422.9C2479.8 424.2 2473.8 424.4 2464.1 426.5C2454.4 428.5 2448.6 429.8 2437.6 432.4C2426.6 434.9 2417 435 2414.1 438.2C2411.2 441.5 2420.9 443.8 2424.4 447.1C2428 450.3 2430.9 450 2430.3 452.9C2429.6 455.9 2424.7 455.8 2421.5 460.3C2418.2 464.8 2417.2 467.4 2415.6 473.5C2414 479.7 2413.1 482.4 2414.1 488.2C2415.1 494.1 2417.4 494.8 2420 500C2422.6 505.2 2423.9 506.6 2425.9 511.8C2427.8 516.9 2428.2 518.7 2428.8 523.5C2429.5 528.4 2430.4 529.6 2428.8 533.8C2427.2 538 2424.4 539.4 2421.5 542.6C2418.6 545.9 2414.3 545.3 2415.6 548.5C2416.9 551.8 2422.2 552.8 2427.4 557.4C2432.5 561.9 2433 564.9 2439.1 569.1C2445.3 573.3 2447.9 573.9 2455.3 576.5C2462.7 579.1 2466.5 578.6 2472.9 580.9C2479.4 583.1 2482.4 583.5 2484.7 586.8C2487 590 2485.5 592.4 2483.2 595.6C2481 598.8 2474.1 598.6 2474.4 601.5C2474.7 604.4 2478.6 605.6 2484.7 608.8C2490.9 612.1 2495.2 613.1 2502.4 616.2C2509.5 619.3 2515.8 620.4 2517.1 622.9C2518.4 625.5 2516 625.5 2508.2 627.9C2500.5 630.3 2494.1 630.9 2481.8 633.8C2469.5 636.7 2462.1 638.3 2452.4 641.2C2442.6 644.1 2438.9 644.1 2437.6 647.1C2436.4 650 2441.9 651.8 2446.5 654.4C2451 657 2458.2 658.9 2458.2 658.8C2458.3 658.7 2444.2 653.4 2446.7 654C2449.2 654.6 2457.1 658.1 2469.7 661.6C2482.4 665.2 2488.2 666.9 2504.3 670.3C2520.3 673.7 2525.7 674.7 2542.6 677C2559.5 679.3 2561.8 679.4 2581 680.8C2600.2 682.3 2619.1 683.1 2629.9 683.7" fill="none" stroke="#343434" stroke-width="4.6" stroke-linejoin="round"/><path d="M2629.9 720.1C2619.1 721.4 2604.4 723.4 2581 725.9C2557.6 728.4 2546.2 729.3 2523.4 731.7C2500.6 734 2494.3 734.3 2477.4 736.4C2460.5 738.6 2456.4 738.5 2446.7 741.2C2437 744 2441.7 745.1 2433.3 748.9C2424.9 752.7 2417.6 754.6 2408.4 758.5C2399.2 762.4 2395.2 764.9 2391.5 766.8" fill="none" stroke="#343434" stroke-width="4.6" stroke-linejoin="round"/><rect x="2391.5" y="214.5" width="238.5" height="626.5" fill="none" stroke="#565656" stroke-width="4.8"/><line x1="2391.5" y1="397.5" x2="2630" y2="397.5" stroke="#565656" stroke-width="5.5" /><line x1="2391.5" y1="400.2" x2="2391.5" y2="762.8" stroke="#e3e3e3" stroke-width="6" /><path d="M2395 400C2395 404.8 2394 411.7 2395 420.6C2396 429.5 2396.3 432.1 2399.4 438.2C2402.5 444.4 2402.7 443.6 2408.2 447.1C2413.7 450.5 2415.4 450.1 2422.9 452.9C2430.5 455.8 2432.4 456.7 2440.6 459.4C2448.8 462.2 2451 462.1 2458.2 464.7C2465.4 467.3 2467 467.8 2471.5 470.6C2475.9 473.3 2478.4 473.4 2477.4 476.5C2476.3 479.6 2470.8 480.4 2467.1 483.8C2463.3 487.3 2460.1 487.7 2461.2 491.2C2462.2 494.6 2468.7 494.8 2471.5 498.5C2474.2 502.3 2475.3 503.6 2472.9 507.4C2470.5 511.1 2466.7 511.6 2461.2 514.7C2455.7 517.8 2450.4 517.5 2449.4 520.6C2448.4 523.7 2453 524.5 2456.8 527.9C2460.5 531.4 2462.8 530.8 2465.6 535.3C2468.3 539.8 2469.6 541.9 2468.5 547.1C2467.5 552.2 2465.6 552.5 2461.2 557.4C2456.7 562.2 2456.6 563.2 2449.4 567.6C2442.2 572.1 2436.1 571 2430.3 576.5C2424.5 582 2427.2 582.9 2424.4 591.2C2421.7 599.4 2421.6 603.5 2418.5 611.8C2415.4 620 2415 620.3 2411.2 626.5C2407.4 632.6 2406.1 632.1 2402.4 638.2C2398.6 644.4 2397 647.9 2395 652.9C2393 658 2394.7 653.7 2394 659.7C2393.3 665.8 2392.6 657.4 2392.1 678.9C2391.5 700.4 2391.5 732.2 2391.5 751.8C2391.5 771.4 2391.9 760.2 2392 762.8" fill="none" stroke="#5e5e5e" stroke-width="3.3" stroke-dasharray="4.2 3.8"/><rect x="2627" y="686.2" width="6" height="31.4" fill="#e6e6e6"/><line x1="2439.2" y1="214.5" x2="2439.2" y2="227.5" stroke="#565656" stroke-width="4.5" /><line x1="2439.2" y1="841" x2="2439.2" y2="828" stroke="#565656" stroke-width="4.5" /><line x1="2486.9" y1="214.5" x2="2486.9" y2="227.5" stroke="#565656" stroke-width="4.5" /><line x1="2486.9" y1="841" x2="2486.9" y2="828" stroke="#565656" stroke-width="4.5" /><line x1="2534.6" y1="214.5" x2="2534.6" y2="227.5" stroke="#565656" stroke-width="4.5" /><line x1="2534.6" y1="841" x2="2534.6" y2="828" stroke="#565656" stroke-width="4.5" /><line x1="2582.3" y1="214.5" x2="2582.3" y2="227.5" stroke="#565656" stroke-width="4.5" /><line x1="2582.3" y1="841" x2="2582.3" y2="828" stroke="#565656" stroke-width="4.5" />
</g>
<g id="panel_c-gfx" filter="url(#soft)">
<defs><pattern id="dth" width="6" height="6" patternUnits="userSpaceOnUse"><rect width="6" height="6" fill="#d9d9d9"/><rect width="3" height="3" fill="#c2c2c2"/><rect x="3" y="3" width="3" height="3" fill="#c2c2c2"/></pattern></defs>
<polyline points="772,1689 969,1858.5" fill="none" stroke="#c4c4c4" stroke-width="5.5" stroke-linejoin="round"/>
<polyline points="1281,1856 1474,1469" fill="none" stroke="#c4c4c4" stroke-width="5.5" stroke-linejoin="round"/>
<polyline points="1281,1856 1475,1938" fill="none" stroke="#c4c4c4" stroke-width="5.5" stroke-linejoin="round"/>
<polyline points="1568,1472 1836.5,1472 1978.5,1689.5 1835,1928" fill="none" stroke="#c4c4c4" stroke-width="5.5" stroke-linejoin="round"/>
<path d="M977 1768C977.4 1771.3 977.3 1776.4 978.5 1782C979.7 1787.6 979.2 1787.6 982 1792C984.8 1796.4 982.6 1796.6 990.4 1800.7C998.2 1804.8 998 1804.8 1015.6 1809.5C1033.2 1814.2 1036.6 1815.5 1066 1820.8C1095.4 1826.1 1106.4 1827.2 1141.7 1832.2C1177 1837.2 1190.9 1838.8 1217.3 1842.3C1243.7 1845.8 1242.2 1845.3 1255 1847.3C1267.8 1849.3 1265.9 1849 1272 1851C1278.1 1853 1278.9 1854.8 1281 1856L1281 1856C1279.4 1857.3 1280.1 1858.5 1274 1861.5C1267.9 1864.5 1268.2 1865.5 1255 1868.7C1241.8 1871.9 1243.7 1871.2 1217.3 1875C1190.9 1878.8 1177 1880 1141.7 1885C1106.4 1890 1095.4 1891.5 1066 1896.5C1036.6 1901.5 1033.2 1902.2 1015.6 1906.6C998 1911 998.4 1910.7 990.4 1915.4C982.4 1920.1 984.4 1920.5 981.5 1926.7C978.6 1932.9 979 1935.2 978 1941.8C977 1948.4 977.2 1951.9 977 1955Z" fill="url(#dth)"/>
<path d="M1480 1491.8L1521 1492C1520.6 1492.6 1521.5 1492.2 1519.4 1494.9C1517.3 1497.6 1514.3 1499.6 1511.3 1504.3C1508.3 1509 1507.6 1509.5 1505.9 1516.3C1504.2 1523.1 1504.1 1527.3 1503.8 1535C1503.5 1542.7 1502.9 1544.8 1504.6 1551.3C1506.2 1557.8 1508.9 1558.8 1511.3 1564.7C1513.7 1570.6 1514.4 1570.3 1515.3 1578C1516.2 1585.7 1515 1593.7 1515.3 1599.6C1515.6 1605.5 1514 1601.7 1516.7 1605C1519.4 1608.3 1522.1 1609.4 1527.4 1614.4C1532.7 1619.4 1538.5 1622.2 1540.9 1627.8C1543.3 1633.4 1540.6 1632.5 1538.2 1639.9C1535.8 1647.3 1533.3 1653.5 1530 1661.4C1526.7 1669.3 1526.3 1668.6 1523.4 1676C1520.5 1683.4 1520.5 1688.2 1516.7 1695C1512.9 1701.8 1509.2 1701.1 1505.9 1707C1502.6 1712.9 1502.2 1715 1501.9 1721.8C1501.6 1728.6 1502.5 1729.6 1504.6 1737.9C1506.7 1746.2 1507.5 1749.4 1511.3 1759.4C1515.1 1769.4 1517.3 1773.5 1522 1783.5C1526.7 1793.5 1524.5 1797.3 1532.8 1805C1541.1 1812.7 1546.7 1812.6 1559.7 1818.5C1572.7 1824.4 1577.8 1826 1591.9 1831.9C1606 1837.8 1618.7 1839.4 1624 1845.3C1629.3 1851.2 1623.1 1853.7 1616 1858.7C1608.9 1863.7 1600.2 1864.4 1591.9 1868C1583.7 1871.6 1580.9 1871 1578.5 1874.9C1576.1 1878.8 1568.6 1880.9 1581 1885.6C1593.4 1890.3 1611.2 1892.2 1634.9 1896.3C1658.6 1900.4 1662 1900.8 1688.6 1904.4C1715.2 1908 1732.1 1909 1755.7 1912.5C1779.3 1916 1778.6 1917.4 1796 1920.5C1813.4 1923.6 1835 1923 1835 1926.5C1835 1930 1816.4 1931.7 1796 1936.6C1775.6 1941.5 1771.8 1942.8 1742.3 1948.7C1712.8 1954.6 1697.2 1956.7 1661.7 1963.5C1626.2 1970.3 1609.4 1973.1 1581 1979.6C1552.6 1986.1 1548.1 1987.1 1532.8 1993C1517.5 1998.9 1519 2000 1511.3 2006.5C1503.6 2013 1501.7 2018.1 1497.9 2022.6C1494.1 2027.1 1494.9 2026 1494 2027L1480 2027Z" fill="url(#dth)"/>
<path d="M1987 1491.8L2088 1491.8C2090.3 1494.1 2095.3 1496.1 2098.5 1502.4C2101.7 1508.7 2102.6 1511.9 2102.6 1520.3C2102.6 1528.7 2101.1 1532.3 2098.5 1540.7C2095.9 1549.1 2089.7 1551.8 2090.8 1558.6C2091.9 1565.4 2099.1 1565.2 2103.6 1571.4C2108.1 1577.6 2112.4 1580.5 2111.3 1586.7C2110.2 1592.9 2101.9 1593.9 2098.5 1599.5C2095.1 1605.1 2094.8 1606.1 2095.9 1612.3C2097 1618.5 2102.5 1618.6 2103.6 1627.6C2104.7 1636.6 2095.4 1644.8 2101 1653.2C2106.6 1661.6 2116.8 1660.4 2129.2 1666C2141.6 1671.6 2150.6 1673.7 2157.3 1678.8C2164 1683.9 2160.4 1684.5 2159.8 1689C2159.2 1693.5 2159.8 1695.3 2154.7 1699.2C2149.6 1703.1 2143 1701.3 2136.8 1706.9C2130.6 1712.5 2133.9 1716.9 2126.6 1724.8C2119.3 1732.7 2113.2 1735.4 2103.6 1742.7C2094 1750 2088.5 1750.7 2083.1 1758C2077.7 1765.3 2079.6 1767.5 2079 1775.9C2078.4 1784.3 2081.4 1788 2080.6 1796.4C2079.8 1804.8 2080 1807 2075.5 1814.3C2071 1821.6 2062.9 1822.3 2060.1 1829.6C2057.3 1836.9 2059.3 1840.7 2062.7 1847.5C2066.1 1854.3 2071.6 1854.7 2075.5 1860.3C2079.4 1865.9 2083.4 1867.4 2080.6 1873C2077.8 1878.6 2072.3 1880.2 2062.7 1885.8C2053.1 1891.4 2046.1 1892.4 2037.1 1898.6C2028.1 1904.8 2026.3 1907.2 2021.8 1914C2017.3 1920.8 2021.2 1921.4 2016.7 1929.3C2012.2 1937.2 2006 1940.7 2001.3 1949.7C1996.6 1958.7 1997.4 1960.1 1995.2 1970.2C1993 1980.3 1992.6 1984.5 1991.1 1995.7C1989.6 2006.9 1989.1 2015.7 1988.6 2021.3L1987 2022Z" fill="#dcdcdc"/>
<path d="M977 1768C977.4 1771.3 977.3 1776.4 978.5 1782C979.7 1787.6 979.2 1787.6 982 1792C984.8 1796.4 982.6 1796.6 990.4 1800.7C998.2 1804.8 998 1804.8 1015.6 1809.5C1033.2 1814.2 1036.6 1815.5 1066 1820.8C1095.4 1826.1 1106.4 1827.2 1141.7 1832.2C1177 1837.2 1190.9 1838.8 1217.3 1842.3C1243.7 1845.8 1242.2 1845.3 1255 1847.3C1267.8 1849.3 1265.9 1849 1272 1851C1278.1 1853 1278.9 1854.8 1281 1856L1281 1856C1279.4 1857.3 1280.1 1858.5 1274 1861.5C1267.9 1864.5 1268.2 1865.5 1255 1868.7C1241.8 1871.9 1243.7 1871.2 1217.3 1875C1190.9 1878.8 1177 1880 1141.7 1885C1106.4 1890 1095.4 1891.5 1066 1896.5C1036.6 1901.5 1033.2 1902.2 1015.6 1906.6C998 1911 998.4 1910.7 990.4 1915.4C982.4 1920.1 984.4 1920.5 981.5 1926.7C978.6 1932.9 979 1935.2 978 1941.8C977 1948.4 977.2 1951.9 977 1955" fill="none" stroke="#0a0a0a" stroke-width="5.2" stroke-linejoin="round"/>
<path d="M1481 1352C1481.6 1353.1 1482.7 1354.9 1484.5 1357.9C1486.3 1360.9 1488.6 1363.3 1491.2 1368.6C1493.8 1373.9 1496.6 1381.1 1499.2 1387.4C1501.8 1393.7 1504.3 1397.7 1505.4 1403.5C1506.5 1409.3 1506 1415.1 1505.4 1419.7C1504.8 1424.3 1501.8 1425.6 1501.9 1429C1502 1432.4 1503.7 1435.8 1505.9 1438.5C1508.1 1441.2 1509.2 1441.6 1514 1443.8C1518.8 1446 1526 1447.8 1532.8 1450.5C1539.6 1453.2 1545.6 1455.4 1551.6 1458.6C1557.6 1461.8 1564.9 1465.6 1566.4 1468C1567.9 1470.4 1562.9 1469.6 1559.7 1472C1556.5 1474.4 1553.7 1478.5 1548.9 1481.4C1544.1 1484.3 1537.8 1486.1 1532.8 1488C1527.8 1489.9 1523.4 1490.8 1521 1492C1518.6 1493.2 1521.1 1492.7 1519.4 1494.9C1517.7 1497.1 1513.7 1500.4 1511.3 1504.3C1508.9 1508.2 1507.2 1510.8 1505.9 1516.3C1504.6 1521.8 1504 1528.7 1503.8 1535C1503.6 1541.3 1503.2 1546 1504.6 1551.3C1505.9 1556.6 1509.4 1559.9 1511.3 1564.7C1513.2 1569.5 1514.6 1571.7 1515.3 1578C1516 1584.3 1515 1594.7 1515.3 1599.6C1515.6 1604.5 1514.5 1602.3 1516.7 1605C1518.9 1607.7 1523 1610.3 1527.4 1614.4C1531.8 1618.5 1539 1623.2 1540.9 1627.8C1542.8 1632.4 1540.2 1633.9 1538.2 1639.9C1536.2 1645.9 1532.7 1654.9 1530 1661.4C1527.3 1667.9 1525.8 1670 1523.4 1676C1521 1682 1519.9 1689.4 1516.7 1695C1513.5 1700.6 1508.6 1702.2 1505.9 1707C1503.2 1711.8 1502.1 1716.2 1501.9 1721.8C1501.7 1727.4 1502.9 1731.1 1504.6 1737.9C1506.3 1744.7 1508.2 1751.2 1511.3 1759.4C1514.4 1767.6 1518.1 1775.3 1522 1783.5C1525.9 1791.7 1526 1798.7 1532.8 1805C1539.6 1811.3 1549.1 1813.7 1559.7 1818.5C1570.3 1823.3 1580.3 1827.1 1591.9 1831.9C1603.5 1836.7 1619.7 1840.5 1624 1845.3C1628.3 1850.1 1621.8 1854.6 1616 1858.7C1610.2 1862.8 1598.7 1865.1 1591.9 1868C1585.2 1870.9 1580.5 1871.7 1578.5 1874.9C1576.5 1878.1 1570.8 1881.7 1581 1885.6C1591.2 1889.5 1615.5 1892.9 1634.9 1896.3C1654.3 1899.7 1666.9 1901.5 1688.6 1904.4C1710.3 1907.3 1736.4 1909.6 1755.7 1912.5C1775 1915.4 1781.7 1918 1796 1920.5C1810.3 1923 1835 1923.6 1835 1926.5C1835 1929.4 1812.7 1932.6 1796 1936.6C1779.3 1940.6 1766.5 1943.9 1742.3 1948.7C1718.1 1953.5 1690.7 1957.9 1661.7 1963.5C1632.7 1969.1 1604.2 1974.3 1581 1979.6C1557.8 1984.9 1545.3 1988.2 1532.8 1993C1520.3 1997.8 1517.6 2001.2 1511.3 2006.5C1505 2011.8 1501 2018.9 1497.9 2022.6C1494.8 2026.3 1494.7 2026.2 1494 2027" fill="none" stroke="#0a0a0a" stroke-width="5.2" stroke-linejoin="round"/>
<path d="M1988.6 1361.8C1989.7 1366.3 1991.5 1373.2 1993.7 1382.2C1995.9 1391.2 1997.3 1393.7 1998.8 1402.7C2000.3 1411.7 2000.3 1414.7 2000.3 1423.1C2000.3 1431.5 1996.3 1434.8 1998.8 1441C2001.3 1447.2 2002.1 1445.7 2011.6 1451.3C2021.1 1456.9 2029.8 1460.4 2042.2 1466.6C2054.6 1472.8 2057.7 1473.9 2067.8 1479.4C2077.9 1484.9 2081.2 1486.7 2088 1491.8C2094.8 1496.9 2095.3 1496.1 2098.5 1502.4C2101.7 1508.7 2102.6 1511.9 2102.6 1520.3C2102.6 1528.7 2101.1 1532.3 2098.5 1540.7C2095.9 1549.1 2089.7 1551.8 2090.8 1558.6C2091.9 1565.4 2099.1 1565.2 2103.6 1571.4C2108.1 1577.6 2112.4 1580.5 2111.3 1586.7C2110.2 1592.9 2101.9 1593.9 2098.5 1599.5C2095.1 1605.1 2094.8 1606.1 2095.9 1612.3C2097 1618.5 2102.5 1618.6 2103.6 1627.6C2104.7 1636.6 2095.4 1644.8 2101 1653.2C2106.6 1661.6 2116.8 1660.4 2129.2 1666C2141.6 1671.6 2150.6 1673.7 2157.3 1678.8C2164 1683.9 2160.4 1684.5 2159.8 1689C2159.2 1693.5 2159.8 1695.3 2154.7 1699.2C2149.6 1703.1 2143 1701.3 2136.8 1706.9C2130.6 1712.5 2133.9 1716.9 2126.6 1724.8C2119.3 1732.7 2113.2 1735.4 2103.6 1742.7C2094 1750 2088.5 1750.7 2083.1 1758C2077.7 1765.3 2079.6 1767.5 2079 1775.9C2078.4 1784.3 2081.4 1788 2080.6 1796.4C2079.8 1804.8 2080 1807 2075.5 1814.3C2071 1821.6 2062.9 1822.3 2060.1 1829.6C2057.3 1836.9 2059.3 1840.7 2062.7 1847.5C2066.1 1854.3 2071.6 1854.7 2075.5 1860.3C2079.4 1865.9 2083.4 1867.4 2080.6 1873C2077.8 1878.6 2072.3 1880.2 2062.7 1885.8C2053.1 1891.4 2046.1 1892.4 2037.1 1898.6C2028.1 1904.8 2026.3 1907.2 2021.8 1914C2017.3 1920.8 2021.2 1921.4 2016.7 1929.3C2012.2 1937.2 2006 1940.7 2001.3 1949.7C1996.6 1958.7 1997.4 1960.1 1995.2 1970.2C1993 1980.3 1992.6 1984.5 1991.1 1995.7C1989.6 2006.9 1989.1 2015.7 1988.6 2021.3" fill="none" stroke="#0a0a0a" stroke-width="5.2" stroke-linejoin="round"/>
<polygon points="735,1650.5 795,1680.5 735,1710.5 748,1680.5" fill="#050505"/>
<rect x="463" y="1670.5" width="278" height="20" rx="6" fill="#0a0a0a"/>
<rect x="468" y="1676.5" width="272" height="8" fill="#d8d8d8"/>
<polygon points="738,1669.5 764,1680.5 738,1691.5" fill="#cfcfcf"/>
<line x1="470.5" y1="1311" x2="470.5" y2="2029.8" stroke="#0a0a0a" stroke-width="7.5" />
<polygon points="470.5,1286 454.5,1317 486.5,1317" fill="#0a0a0a"/>
<line x1="461" y1="2027" x2="480" y2="2027" stroke="#0a0a0a" stroke-width="6" />
<line x1="461" y1="1960.1" x2="480" y2="1960.1" stroke="#0a0a0a" stroke-width="6" />
<line x1="461" y1="1893.2" x2="480" y2="1893.2" stroke="#0a0a0a" stroke-width="6" />
<line x1="461" y1="1826.3" x2="480" y2="1826.3" stroke="#0a0a0a" stroke-width="6" />
<line x1="461" y1="1759.4" x2="480" y2="1759.4" stroke="#0a0a0a" stroke-width="6" />
<line x1="461" y1="1692.5" x2="480" y2="1692.5" stroke="#0a0a0a" stroke-width="6" />
<line x1="461" y1="1625.6" x2="480" y2="1625.6" stroke="#0a0a0a" stroke-width="6" />
<line x1="461" y1="1558.7" x2="480" y2="1558.7" stroke="#0a0a0a" stroke-width="6" />
<line x1="461" y1="1491.8" x2="480" y2="1491.8" stroke="#0a0a0a" stroke-width="6" />
<line x1="461" y1="1424.9" x2="480" y2="1424.9" stroke="#0a0a0a" stroke-width="6" />
<line x1="461" y1="1358" x2="480" y2="1358" stroke="#0a0a0a" stroke-width="6" />
<line x1="976.5" y1="1311" x2="976.5" y2="2029.8" stroke="#0a0a0a" stroke-width="7.5" />
<polygon points="976.5,1286 960.5,1317 992.5,1317" fill="#0a0a0a"/>
<line x1="967" y1="2027" x2="986" y2="2027" stroke="#0a0a0a" stroke-width="6" />
<line x1="967" y1="1960.1" x2="986" y2="1960.1" stroke="#0a0a0a" stroke-width="6" />
<line x1="967" y1="1893.2" x2="986" y2="1893.2" stroke="#0a0a0a" stroke-width="6" />
<line x1="967" y1="1826.3" x2="986" y2="1826.3" stroke="#0a0a0a" stroke-width="6" />
<line x1="967" y1="1759.4" x2="986" y2="1759.4" stroke="#0a0a0a" stroke-width="6" />
<line x1="967" y1="1692.5" x2="986" y2="1692.5" stroke="#0a0a0a" stroke-width="6" />
<line x1="967" y1="1625.6" x2="986" y2="1625.6" stroke="#0a0a0a" stroke-width="6" />
<line x1="967" y1="1558.7" x2="986" y2="1558.7" stroke="#0a0a0a" stroke-width="6" />
<line x1="967" y1="1491.8" x2="986" y2="1491.8" stroke="#0a0a0a" stroke-width="6" />
<line x1="967" y1="1424.9" x2="986" y2="1424.9" stroke="#0a0a0a" stroke-width="6" />
<line x1="967" y1="1358" x2="986" y2="1358" stroke="#0a0a0a" stroke-width="6" />
<line x1="1480" y1="1311" x2="1480" y2="2029.8" stroke="#0a0a0a" stroke-width="7.5" />
<polygon points="1480,1286 1464,1317 1496,1317" fill="#0a0a0a"/>
<line x1="1470.5" y1="2027" x2="1489.5" y2="2027" stroke="#0a0a0a" stroke-width="6" />
<line x1="1470.5" y1="1960.1" x2="1489.5" y2="1960.1" stroke="#0a0a0a" stroke-width="6" />
<line x1="1470.5" y1="1893.2" x2="1489.5" y2="1893.2" stroke="#0a0a0a" stroke-width="6" />
<line x1="1470.5" y1="1826.3" x2="1489.5" y2="1826.3" stroke="#0a0a0a" stroke-width="6" />
<line x1="1470.5" y1="1759.4" x2="1489.5" y2="1759.4" stroke="#0a0a0a" stroke-width="6" />
<line x1="1470.5" y1="1692.5" x2="1489.5" y2="1692.5" stroke="#0a0a0a" stroke-width="6" />
<line x1="1470.5" y1="1625.6" x2="1489.5" y2="1625.6" stroke="#0a0a0a" stroke-width="6" />
<line x1="1470.5" y1="1558.7" x2="1489.5" y2="1558.7" stroke="#0a0a0a" stroke-width="6" />
<line x1="1470.5" y1="1491.8" x2="1489.5" y2="1491.8" stroke="#0a0a0a" stroke-width="6" />
<line x1="1470.5" y1="1424.9" x2="1489.5" y2="1424.9" stroke="#0a0a0a" stroke-width="6" />
<line x1="1470.5" y1="1358" x2="1489.5" y2="1358" stroke="#0a0a0a" stroke-width="6" />
<line x1="1987" y1="1311" x2="1987" y2="2029.8" stroke="#0a0a0a" stroke-width="7.5" />
<polygon points="1987,1286 1971,1317 2003,1317" fill="#0a0a0a"/>
<line x1="1977.5" y1="2027" x2="1996.5" y2="2027" stroke="#0a0a0a" stroke-width="6" />
<line x1="1977.5" y1="1960.1" x2="1996.5" y2="1960.1" stroke="#0a0a0a" stroke-width="6" />
<line x1="1977.5" y1="1893.2" x2="1996.5" y2="1893.2" stroke="#0a0a0a" stroke-width="6" />
<line x1="1977.5" y1="1826.3" x2="1996.5" y2="1826.3" stroke="#0a0a0a" stroke-width="6" />
<line x1="1977.5" y1="1759.4" x2="1996.5" y2="1759.4" stroke="#0a0a0a" stroke-width="6" />
<line x1="1977.5" y1="1692.5" x2="1996.5" y2="1692.5" stroke="#0a0a0a" stroke-width="6" />
<line x1="1977.5" y1="1625.6" x2="1996.5" y2="1625.6" stroke="#0a0a0a" stroke-width="6" />
<line x1="1977.5" y1="1558.7" x2="1996.5" y2="1558.7" stroke="#0a0a0a" stroke-width="6" />
<line x1="1977.5" y1="1491.8" x2="1996.5" y2="1491.8" stroke="#0a0a0a" stroke-width="6" />
<line x1="1977.5" y1="1424.9" x2="1996.5" y2="1424.9" stroke="#0a0a0a" stroke-width="6" />
<line x1="1977.5" y1="1358" x2="1996.5" y2="1358" stroke="#0a0a0a" stroke-width="6" />
<line x1="470.5" y1="1491.8" x2="801.5" y2="1491.8" stroke="#0a0a0a" stroke-width="7" />
<polygon points="831.5,1491.8 798.5,1476.3 798.5,1507.3" fill="#0a0a0a"/>
<line x1="976.5" y1="1491.8" x2="1305.5" y2="1491.8" stroke="#0a0a0a" stroke-width="7" />
<polygon points="1335.5,1491.8 1302.5,1476.3 1302.5,1507.3" fill="#0a0a0a"/>
<line x1="1480" y1="1491.8" x2="1811.5" y2="1491.8" stroke="#0a0a0a" stroke-width="7" />
<polygon points="1841.5,1491.8 1808.5,1476.3 1808.5,1507.3" fill="#0a0a0a"/>
<line x1="1987" y1="1491.8" x2="2322" y2="1491.8" stroke="#0a0a0a" stroke-width="7" />
<polygon points="2352,1491.8 2319,1476.3 2319,1507.3" fill="#0a0a0a"/>
</g>
<g id="panel_d-gfx" filter="url(#soft)">
<defs><linearGradient id="gb" x1="0" y1="0" x2="1" y2="0"><stop offset="0" stop-color="#bcc6da"/><stop offset="0.06" stop-color="#bccbe0"/><stop offset="0.125" stop-color="#c3d5e8"/><stop offset="0.185" stop-color="#cfe2ef"/><stop offset="0.245" stop-color="#dfeaf4"/><stop offset="0.31" stop-color="#eef3f8"/><stop offset="0.37" stop-color="#f8fafc"/><stop offset="0.43" stop-color="#fdfdfc"/><stop offset="0.47" stop-color="#fdfdfb"/><stop offset="0.53" stop-color="#f8faf4"/><stop offset="0.62" stop-color="#ecf4e8"/><stop offset="0.715" stop-color="#dcecdc"/><stop offset="0.806" stop-color="#c8e2d2"/><stop offset="0.897" stop-color="#bdd8c8"/><stop offset="1.0" stop-color="#afc7ba"/></linearGradient><linearGradient id="gp" x1="0" y1="0" x2="1" y2="0"><stop offset="0" stop-color="#cdbdda"/><stop offset="0.06" stop-color="#d0c0dc"/><stop offset="0.125" stop-color="#d4c6e0"/><stop offset="0.185" stop-color="#dbd0e6"/><stop offset="0.245" stop-color="#e2dcec"/><stop offset="0.31" stop-color="#ebe8f2"/><stop offset="0.37" stop-color="#f3f2f7"/><stop offset="0.43" stop-color="#fcfcfc"/><stop offset="0.47" stop-color="#fdfdfb"/><stop offset="0.53" stop-color="#f8faf4"/><stop offset="0.62" stop-color="#ecf4e8"/><stop offset="0.715" stop-color="#dcecdc"/><stop offset="0.806" stop-color="#c8e2d2"/><stop offset="0.897" stop-color="#bdd8c8"/><stop offset="1.0" stop-color="#afc7ba"/></linearGradient><clipPath id="c1"><rect x="2858.3" y="33.5" width="836.3" height="666"/></clipPath><clipPath id="c2"><rect x="2856.8" y="818.4" width="840.5" height="679"/></clipPath><clipPath id="c3"><rect x="2856.8" y="1618.4" width="840.5" height="681"/></clipPath></defs>
<rect x="2858.3" y="33.5" width="836.3" height="666" fill="url(#gb)"/>
<line x1="3222.1" y1="33.5" x2="3222.1" y2="699.5" stroke="#7e7e7e" stroke-width="5" stroke-dasharray="10.5 4.5"/>
<g clip-path="url(#c1)">
<line x1="2858.3" y1="344.3" x2="3694.6" y2="122.3" stroke="#101010" stroke-width="4.6" />
<line x1="2858.3" y1="699.5" x2="3694.6" y2="255.5" stroke="#101010" stroke-width="4.6" />
</g>
<circle cx="2896.6" cy="334.8" r="9.8" fill="#050505"/>
<circle cx="3017.4" cy="302.5" r="9.8" fill="#050505"/>
<circle cx="3139" cy="269.7" r="9.8" fill="#050505"/>
<circle cx="3192.7" cy="261.6" r="9.8" fill="#050505"/>
<circle cx="3376.5" cy="189.2" r="9.8" fill="#050505"/>
<circle cx="2896.3" cy="649.9" r="9.8" fill="#050505"/>
<circle cx="3017.8" cy="588.3" r="9.8" fill="#050505"/>
<circle cx="3138.8" cy="528.5" r="9.8" fill="#050505"/>
<circle cx="3192.8" cy="525.2" r="9.8" fill="#050505"/>
<circle cx="3376.9" cy="394" r="9.8" fill="#050505"/>
<circle cx="2962.8" cy="301.8" r="9" fill="#e8191c" stroke="#8a3a3a" stroke-width="2.5"/>
<circle cx="2962.8" cy="559.3" r="9" fill="#e8191c" stroke="#8a3a3a" stroke-width="2.5"/>
<line x1="2994" y1="235" x2="2975.3" y2="273.1" stroke="#e3191c" stroke-width="3.2" /><polygon points="2970.5,283 2971.3,271.1 2979.4,275.1" fill="#e3191c"/>
<rect x="2858.3" y="33.5" width="836.3" height="666" fill="none" stroke="#717171" stroke-width="4.6"/>
<line x1="3067.4" y1="699.5" x2="3067.4" y2="685.5" stroke="#8a8f98" stroke-width="4.5" />
<line x1="3276.4" y1="699.5" x2="3276.4" y2="685.5" stroke="#8a8f98" stroke-width="4.5" />
<line x1="3485.5" y1="699.5" x2="3485.5" y2="685.5" stroke="#8a8f98" stroke-width="4.5" />
<line x1="2858.3" y1="588.5" x2="2873.3" y2="588.5" stroke="#74797f" stroke-width="4.5" />
<line x1="2858.3" y1="477.5" x2="2873.3" y2="477.5" stroke="#74797f" stroke-width="4.5" />
<line x1="2858.3" y1="366.5" x2="2873.3" y2="366.5" stroke="#74797f" stroke-width="4.5" />
<line x1="2858.3" y1="255.5" x2="2873.3" y2="255.5" stroke="#74797f" stroke-width="4.5" />
<line x1="2858.3" y1="144.5" x2="2873.3" y2="144.5" stroke="#74797f" stroke-width="4.5" />
<rect x="2856.8" y="818.4" width="840.5" height="679" fill="url(#gb)"/>
<line x1="3218.2" y1="818.4" x2="3218.2" y2="1497.4" stroke="#7e7e7e" stroke-width="5" stroke-dasharray="10.5 4.5"/>
<g clip-path="url(#c2)">
<line x1="2947.6" y1="817" x2="3218.2" y2="1035.7" stroke="#1f8a3e" stroke-width="5" stroke-dasharray="8 5"/>
<line x1="3218.2" y1="1035.7" x2="3697.3" y2="1422.7" stroke="#1f8a3e" stroke-width="5" />
<line x1="2856.8" y1="1327.7" x2="3218.2" y2="1035.7" stroke="#2b40a8" stroke-width="5" />
<line x1="3218.2" y1="1035.7" x2="3487.2" y2="818.4" stroke="#2b40a8" stroke-width="5.6" stroke-dasharray="10 5.5"/>
<line x1="3571.2" y1="818.4" x2="3691" y2="915.2" stroke="#1a1a1a" stroke-width="4.5" stroke-dasharray="9 6"/>
<line x1="2856.8" y1="910.1" x2="3697.3" y2="910.1" stroke="#0c0c0c" stroke-width="4.6" />
</g>
<path d="M3161 1065H3012A57 57 0 0 0 2955 1122V1190" fill="none" stroke="#e56e78" stroke-width="13.5"/>
<polygon points="2930.5,1188 2978.5,1188 2954.5,1226.5" fill="#e56e78"/>
<circle cx="2895.2" cy="1297.9" r="9.8" fill="#050505"/>
<circle cx="3016.1" cy="1199.7" r="9.8" fill="#050505"/>
<circle cx="3137.5" cy="1100" r="9.8" fill="#050505"/>
<circle cx="3192.2" cy="1055.8" r="9.8" fill="#050505"/>
<circle cx="3379.8" cy="1219.6" r="9.8" fill="#050505"/>
<circle cx="2961.4" cy="1243.3" r="9" fill="#e8191c" stroke="#8a3a3a" stroke-width="2.5"/>
<polygon points="3341.5,1099.5 3344.3,1107.1 3352.4,1107.4 3346.1,1112.5 3348.3,1120.3 3341.5,1115.8 3334.7,1120.3 3336.9,1112.5 3330.6,1107.4 3338.7,1107.1" fill="#0a0a0a"/>
<line x1="3251" y1="1113.5" x2="3215.5" y2="1081.8" stroke="#111" stroke-width="4.5" /><polygon points="3205,1072.5 3219.1,1077.7 3211.8,1085.9" fill="#111"/>
<line x1="3409.5" y1="1048.5" x2="3361.5" y2="1090.7" stroke="#111" stroke-width="4.5" /><polygon points="3351,1100 3357.9,1086.6 3365.1,1094.9" fill="#111"/>
<line x1="3019" y1="1298" x2="2979.2" y2="1262.6" stroke="#e3191c" stroke-width="4.2" /><polygon points="2969.5,1254 2982.9,1258.5 2975.6,1266.7" fill="#e3191c"/>
<line x1="3386" y1="1398.6" x2="3253.3" y2="1471.7" stroke="#111" stroke-width="4.5" /><polygon points="3241,1478.5 3250.6,1466.9 3255.9,1476.6" fill="#111"/>
<rect x="2856.8" y="818.4" width="840.5" height="679" fill="none" stroke="#717171" stroke-width="4.6"/>
<line x1="3066.9" y1="1497.4" x2="3066.9" y2="1483.4" stroke="#8a8f98" stroke-width="4.5" />
<line x1="3277.1" y1="1497.4" x2="3277.1" y2="1483.4" stroke="#8a8f98" stroke-width="4.5" />
<line x1="3487.2" y1="1497.4" x2="3487.2" y2="1483.4" stroke="#8a8f98" stroke-width="4.5" />
<line x1="2856.8" y1="1327.7" x2="2871.8" y2="1327.7" stroke="#74797f" stroke-width="4.5" />
<line x1="2856.8" y1="988.1" x2="2871.8" y2="988.1" stroke="#74797f" stroke-width="4.5" />
<rect x="2856.8" y="1618.4" width="840.5" height="681" fill="url(#gp)"/>
<line x1="3285.5" y1="1618.4" x2="3285.5" y2="2299.4" stroke="#7e7e7e" stroke-width="5" stroke-dasharray="10.5 4.5"/>
<g clip-path="url(#c3)">
<line x1="2949.3" y1="1618.4" x2="3285.5" y2="1890.8" stroke="#1f8a3e" stroke-width="5" stroke-dasharray="8 5"/>
<line x1="3285.5" y1="1890.8" x2="3697.3" y2="2224.5" stroke="#1f8a3e" stroke-width="5" />
<line x1="2856.8" y1="2238.1" x2="3285.5" y2="1890.8" stroke="#7d1b84" stroke-width="5" />
<line x1="3285.5" y1="1890.8" x2="3621.7" y2="1618.4" stroke="#7d1b84" stroke-width="5.6" stroke-dasharray="10 5.5"/>
<line x1="2856.8" y1="1890.8" x2="3697.3" y2="1890.8" stroke="#3c3c3c" stroke-width="5.5" />
</g>
<circle cx="2895.5" cy="2207.4" r="9.8" fill="#050505"/>
<circle cx="3018" cy="2107.8" r="9.8" fill="#050505"/>
<circle cx="3139.1" cy="2009.2" r="9.8" fill="#050505"/>
<circle cx="3193.5" cy="1964.7" r="9.8" fill="#050505"/>
<circle cx="3378.1" cy="2020.1" r="9.8" fill="#050505"/>
<polygon points="3339.4,1899.3 3342.2,1906.9 3350.3,1907.2 3344,1912.3 3346.2,1920.1 3339.4,1915.6 3332.6,1920.1 3334.8,1912.3 3328.5,1907.2 3336.6,1906.9" fill="#0a0a0a"/>
<line x1="3412" y1="1853" x2="3366" y2="1893.5" stroke="#111" stroke-width="4.5" /><polygon points="3355.5,1902.8 3362.4,1889.4 3369.6,1897.7" fill="#111"/>
<line x1="3139.5" y1="2219" x2="3243.2" y2="2280.6" stroke="#111" stroke-width="4.5" /><polygon points="3255.2,2287.7 3240.4,2285.3 3246,2275.8" fill="#111"/>
<rect x="2856.8" y="1618.4" width="840.5" height="681" fill="none" stroke="#717171" stroke-width="4.6"/>
<line x1="3066.9" y1="2299.4" x2="3066.9" y2="2285.4" stroke="#8a8f98" stroke-width="4.5" />
<line x1="3277.1" y1="2299.4" x2="3277.1" y2="2285.4" stroke="#8a8f98" stroke-width="4.5" />
<line x1="3487.2" y1="2299.4" x2="3487.2" y2="2285.4" stroke="#8a8f98" stroke-width="4.5" />
<line x1="2856.8" y1="2129.2" x2="2871.8" y2="2129.2" stroke="#74797f" stroke-width="4.5" />
<line x1="2856.8" y1="1788.7" x2="2871.8" y2="1788.7" stroke="#74797f" stroke-width="4.5" />
</g>
<g id="panel_a-txt">
<text x="44.5" y="61" font-size="66" >(a)</text>
<text x="176" y="172.5" font-size="66" text-anchor="end" >5</text>
<text x="176" y="320.5" font-size="66" text-anchor="end" >4</text>
<text x="176" y="469.5" font-size="66" text-anchor="end" >3</text>
<text x="176" y="618.5" font-size="66" text-anchor="end" >2</text>
<text x="176" y="766.5" font-size="66" text-anchor="end" >1</text>
<text x="176" y="915.5" font-size="66" text-anchor="end" >0</text>
<text transform="translate(99 575.5) rotate(-90)" font-size="66" text-anchor="middle" >Δ<tspan font-style="italic">G</tspan>/eV</text>
<text x="273.5" y="133" font-size="66" fill="#1d4ba0" >O<tspan font-size="36" baseline-shift="-11">2</tspan></text>
<text x="419" y="266" font-size="65.5" fill="#1d4ba0" >*OOH</text>
<text x="643" y="582.5" font-size="66" fill="#1d4ba0" >*O</text>
<text x="798" y="755.5" font-size="66" fill="#1d4ba0" >*OH</text>
<text x="986" y="868.5" font-size="66" fill="#1d4ba0" >H<tspan font-size="36" baseline-shift="-11">2</tspan>O</text>
<text x="840.5" y="178" font-size="66" ><tspan font-style="italic">U</tspan> = 0 V</text>
<text x="844.5" y="256" font-size="66" ><tspan font-style="italic">U</tspan> = 0.75 V</text>
<text x="844.5" y="334" font-size="66" ><tspan font-style="italic">U</tspan> = 1.23 V</text>
<text x="1063" y="402.5" font-size="49.2" text-anchor="middle" >Effect of electrode</text>
<text x="1063" y="461" font-size="49.2" text-anchor="middle" >= potential for a (H<tspan font-size="29" baseline-shift="16">+</tspan>+e<tspan font-size="29" baseline-shift="16">+</tspan>)</text>
<text x="1063" y="519.5" font-size="49.2" text-anchor="middle" >pair at U = 1.23 V</text>
<text x="243" y="994" font-size="32.5" >4(H<tspan font-size="21" baseline-shift="10.5">+</tspan>+e<tspan font-size="21" baseline-shift="10.5">+</tspan>)</text>
<text x="446" y="989" font-size="32.5" >3(H<tspan font-size="21" baseline-shift="10.5">+</tspan>+e<tspan font-size="21" baseline-shift="10.5">+</tspan>)</text>
<text x="606" y="1012" font-size="32.5" >2(H<tspan font-size="21" baseline-shift="10.5">+</tspan>+e<tspan font-size="21" baseline-shift="10.5">+</tspan>)</text>
<text x="805" y="1005" font-size="32.5" >(H<tspan font-size="21" baseline-shift="10.5">+</tspan>+e<tspan font-size="21" baseline-shift="10.5">+</tspan>)</text>
<text x="378" y="1094" font-size="66" >Reaction coordinate</text>
</g>
<g id="panel_b-txt">
<text x="1376" y="60" font-size="66" >(b)</text>
<text x="1721" y="178" font-size="66" text-anchor="middle" >Ni(111)</text>
<text x="1986" y="178" font-size="66" text-anchor="middle" >Cu(111)</text>
<text x="2248.5" y="178" font-size="66" text-anchor="middle" >Pt(111)</text>
<text x="2504" y="178" font-size="66" text-anchor="middle" >Au(111)</text>
<text x="1573" y="234" font-size="66" text-anchor="end" >5</text>
<text x="1573" y="417" font-size="66" text-anchor="end" >0</text>
<text x="1573" y="600" font-size="66" text-anchor="end" >−5</text>
<text x="1573" y="784.5" font-size="66" text-anchor="end" >−10</text>
<text transform="translate(1432 528.5) rotate(-90)" font-size="66" text-anchor="middle" ><tspan font-style="italic">ε</tspan>/eV</text>
<text x="1702" y="926" font-size="66" >Projected DOS (arbitrary units)</text>
</g>
<g id="panel_c-txt">
<text x="247" y="1269" font-size="66" >(c)</text>
<text x="555.5" y="1269" font-size="66" >Vacuum</text>
<text x="1003" y="1269" font-size="66" >Coupling to sp</text>
<text x="1529" y="1269" font-size="66" >Coupling to d</text>
<text x="434" y="1512" font-size="66" text-anchor="end" >0</text>
<text x="434" y="1780" font-size="66" text-anchor="end" >−4</text>
<text x="434" y="2047.8" font-size="66" text-anchor="end" >−8</text>
<text transform="translate(305 1653) rotate(-90)" font-size="66" text-anchor="middle" ><tspan font-style="italic">ε</tspan>−ε<tspan font-size="40" baseline-shift="-11">F</tspan>/eV</text>
<text x="829" y="2106" font-size="66" >Oxygen 2p<tspan font-size="40" font-style="italic" baseline-shift="-11">x</tspan>-projected DOS</text>
<text x="1964" y="2106" font-size="66" >Pt d-projected DOS</text>
</g>
<g id="panel_d-txt">
<text x="2689" y="61" font-size="66" >(d)</text>
<text x="2829" y="720" font-size="66" text-anchor="end" >0</text>
<text x="2829" y="609" font-size="66" text-anchor="end" >1</text>
<text x="2829" y="498" font-size="66" text-anchor="end" >2</text>
<text x="2829" y="387" font-size="66" text-anchor="end" >3</text>
<text x="2829" y="276" font-size="66" text-anchor="end" >4</text>
<text x="2829" y="165" font-size="66" text-anchor="end" >5</text>
<text x="2829" y="54" font-size="66" text-anchor="end" >6</text>
<text x="2858.3" y="770.5" font-size="66" text-anchor="middle" >0.0</text>
<text x="3067.4" y="770.5" font-size="66" text-anchor="middle" >0.5</text>
<text x="3276.4" y="770.5" font-size="66" text-anchor="middle" >1.0</text>
<text x="3485.5" y="770.5" font-size="66" text-anchor="middle" >1.5</text>
<text x="3694.6" y="770.5" font-size="66" text-anchor="middle" >2.0</text>
<text transform="translate(2745.3 369) rotate(-90)" font-size="66" text-anchor="middle" >Δ<tspan font-style="italic">G</tspan><tspan font-size="39.5" baseline-shift="-12" dx="-3.5">O</tspan>, Δ<tspan font-style="italic">G</tspan><tspan font-size="39.5" baseline-shift="-12" dx="-3.5">OOH</tspan>/eV</text>
<text x="2878" y="315" font-size="40.5" >Rh</text>
<text x="2944" y="208.5" font-size="40.5" fill="#e3191c" >Pt(211)</text>
<text x="3112.5" y="245" font-size="40.5" >Pd</text>
<text x="3182" y="312.5" font-size="40.5" >Pt</text>
<text x="3031" y="344" font-size="40.5" >Ir</text>
<text x="3356" y="245.5" font-size="40.5" >Au</text>
<text x="2926.5" y="527" font-size="40.5" fill="#e3191c" >Pt(211)</text>
<text x="3680.5" y="66.5" font-size="40.5" text-anchor="end" >*OOH vs. *OH</text>
<text x="3680.5" y="115" font-size="40.5" text-anchor="end" >scaling</text>
<text x="3685.5" y="399" font-size="40.5" text-anchor="end" >*O vs. *OH</text>
<text x="3685.5" y="447.5" font-size="40.5" text-anchor="end" >scaling</text>
<text x="2827" y="1009.6" font-size="66" text-anchor="end" >1</text>
<text x="2829.5" y="1348.2" font-size="66" text-anchor="end" >0</text>
<text x="2858.3" y="1571" font-size="66" text-anchor="middle" >0.0</text>
<text x="3067.4" y="1571" font-size="66" text-anchor="middle" >0.5</text>
<text x="3276.4" y="1571" font-size="66" text-anchor="middle" >1.0</text>
<text x="3485.5" y="1571" font-size="66" text-anchor="middle" >1.5</text>
<text x="3694.6" y="1571" font-size="66" text-anchor="middle" >2.0</text>
<text transform="translate(2756 1157) rotate(-90)" font-size="66" text-anchor="middle" >Limiting potential/V</text>
<text x="2893" y="1348.5" font-size="40.5" >Rh</text>
<text x="3003" y="1340.5" font-size="40.5" fill="#e3191c" >Pt(211)</text>
<text x="3041.5" y="1233" font-size="40.5" >Ir</text>
<text x="3122.5" y="1154" font-size="40.5" >Pd</text>
<text x="3228.5" y="1161" font-size="40.5" >Pt(111)</text>
<text x="3353" y="1264.8" font-size="40.5" >Au</text>
<text x="3375.5" y="1039.5" font-size="40.5" >PtHg<tspan font-size="25" baseline-shift="-7">4</tspan></text>
<text x="3673" y="961.5" font-size="40.5" text-anchor="end" ><tspan font-style="italic">E</tspan>° = 1.23 V</text>
<text x="3039" y="989.5" font-size="40.5" text-anchor="middle" fill="#dc6b7b" >Structure</text>
<text x="3038.5" y="1039" font-size="40.5" text-anchor="middle" fill="#dc6b7b" >effects</text>
<text x="2982.5" y="1416" font-size="40.5" text-anchor="middle" fill="#2b3494" >Strong</text>
<text x="2982.5" y="1466.5" font-size="40.5" text-anchor="middle" fill="#2b3494" >*OH binding</text>
<text x="3554.5" y="1427" font-size="40.5" text-anchor="middle" fill="#1e7d3e" >Week</text>
<text x="3554.5" y="1476" font-size="40.5" text-anchor="middle" fill="#1e7d3e" >*OOH binding</text>
<text x="3246" y="1322.8" font-size="40.5" >Ideal Δ<tspan font-style="italic">G</tspan><tspan font-size="25" baseline-shift="-7">OH</tspan> based</text>
<text x="3234" y="1373" font-size="40.5" >on scaling for H<tspan font-size="25" baseline-shift="-7">2</tspan>O</text>
<g transform="translate(3268 975) rotate(-38.9)" font-size="40.5" fill="#1d4ba0"><text x="0" y="0">*OH</text><text transform="translate(67.3 0) scale(1.562 1)">→</text><text x="118.8" y="0">H<tspan font-size="25" baseline-shift="-7">2</tspan>O</text></g>
<g transform="translate(3373 1132) rotate(38.9)" font-size="40.5" fill="#1e7d3e"><text x="0" y="0"><tspan font-style="italic">O</tspan><tspan font-size="25" baseline-shift="-7">2</tspan></text><text transform="translate(30.2 0) scale(1.562 1)">→</text><text x="81.7" y="0">*OOH</text></g>
<text x="2827" y="1810.2" font-size="66" text-anchor="end" >1</text>
<text x="2829.5" y="2148.7" font-size="66" text-anchor="end" >0</text>
<text x="2858.3" y="2370" font-size="66" text-anchor="middle" >0.0</text>
<text x="3067.4" y="2370" font-size="66" text-anchor="middle" >0.5</text>
<text x="3276.4" y="2370" font-size="66" text-anchor="middle" >1.0</text>
<text x="3485.5" y="2370" font-size="66" text-anchor="middle" >1.5</text>
<text x="3694.6" y="2370" font-size="66" text-anchor="middle" >2.0</text>
<text transform="translate(2756 1957) rotate(-90)" font-size="66" text-anchor="middle" >Limiting potential/V</text>
<text x="2868" y="2181.2" font-size="40.5" >Rh</text>
<text x="2999" y="2085.6" font-size="40.5" >Ir</text>
<text x="3122.5" y="2062.5" font-size="40.5" >Pd</text>
<text x="3179.5" y="2018.3" font-size="40.5" >Pt(111)</text>
<text x="3350" y="2062.4" font-size="40.5" >Au</text>
<text x="3408.3" y="1841.5" font-size="40.5" >PtHg<tspan font-size="25" baseline-shift="-7">4</tspan></text>
<text x="3678" y="1940.5" font-size="40.5" text-anchor="end" ><tspan font-style="italic">E</tspan>° = 0.7 V</text>
<text x="3016" y="2147" font-size="40.5" >Ideal Δ<tspan font-style="italic">G</tspan><tspan font-size="25" baseline-shift="-7">OH</tspan> based</text>
<text x="2999.5" y="2197" font-size="40.5" >on scaling for H<tspan font-size="25" baseline-shift="-7">2</tspan>O<tspan font-size="25" baseline-shift="-7">2</tspan></text>
<text x="2924" y="2233.3" font-size="40.5" fill="#2b3494" >Strong *OH</text>
<text x="2866" y="2282" font-size="40.5" fill="#2b3494" >and *OOH binding</text>
<text x="3552.5" y="2222.8" font-size="40.5" text-anchor="middle" fill="#1e7d3e" >Week</text>
<text x="3552.5" y="2272" font-size="40.5" text-anchor="middle" fill="#1e7d3e" >*OOH binding</text>
<g transform="translate(3040 2058) rotate(-39)" font-size="40.5" fill="#85198a"><text x="0" y="0">*OOH</text><text transform="translate(96.5 0) scale(1.562 1)">→</text><text x="148" y="0">H<tspan font-size="25" baseline-shift="-7">2</tspan>O<tspan font-size="25" baseline-shift="-7">2</tspan></text></g>
<g transform="translate(3378 1932) rotate(39)" font-size="40.5" fill="#1e7d3e"><text x="0" y="0"><tspan font-style="italic">O</tspan><tspan font-size="25" baseline-shift="-7">2</tspan></text><text transform="translate(30.2 0) scale(1.562 1)">→</text><text x="81.7" y="0">*OOH</text></g>
<text x="3157" y="2449" font-size="66" >Δ<tspan font-style="italic">G</tspan><tspan font-size="39.5" baseline-shift="-12" dx="-3.5">OH</tspan>/eV</text>
</g>
</svg>
</body></html>
